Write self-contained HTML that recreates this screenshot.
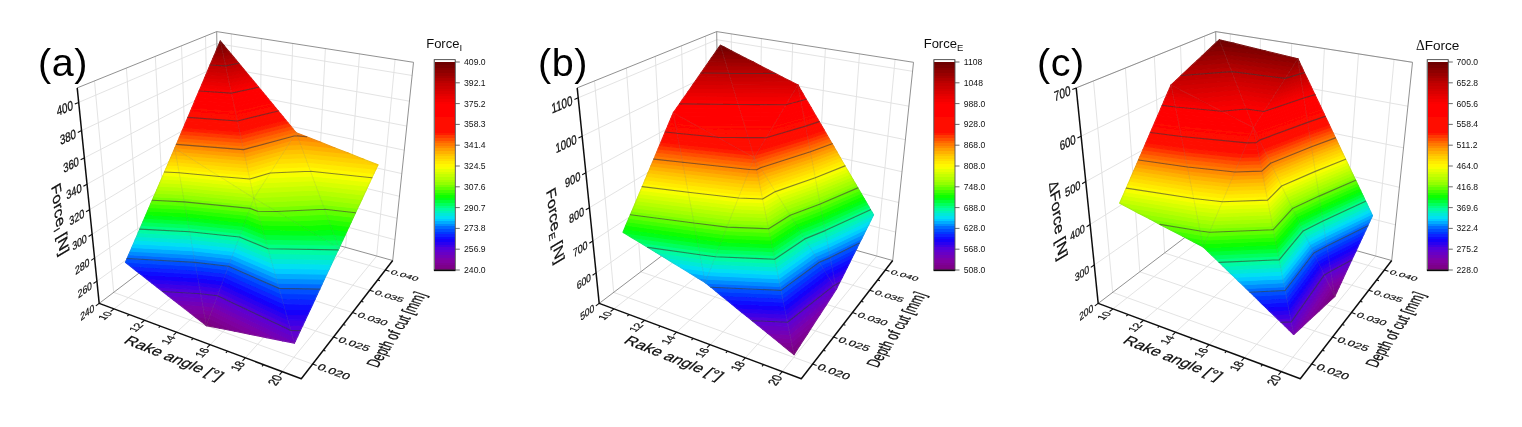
<!DOCTYPE html>
<html><head><meta charset="utf-8"><title>Force surfaces</title>
<style>html,body{margin:0;padding:0;background:#fff}svg{display:block}text{font-family:"Liberation Sans",Arial,sans-serif}</style>
</head><body>
<svg width="1522" height="427" viewBox="0 0 1522 427">
<defs><filter id="soft" x="0" y="0" width="1522" height="427" filterUnits="userSpaceOnUse"><feGaussianBlur stdDeviation="0.45"/></filter></defs>
<rect width="1522" height="427" fill="#fff"/>
<g filter="url(#soft)">
<g>
<path d="M114,308.9L232.3,215.8M232.3,215.8L231.3,33.9M144.6,320.3L259.1,223.3M259.1,223.3L261.4,38.6M176.6,332.2L286.9,231M286.9,231L292.7,43.5M210.1,344.7L315.7,239M315.7,239L325.4,48.6M245.3,357.8L345.6,247.4M345.6,247.4L359.5,53.9M282.2,371.6L376.7,256.1M376.7,256.1L395.1,59.4M113.7,292.4L312.6,364.1M113.7,292.4L94.5,80.9M140.8,271.8L333.5,337M140.8,271.8L126.4,68.1M165.6,253L352.5,312.6M165.6,253L155.3,56.4M188.4,235.6L369.6,290.3M188.4,235.6L181.5,45.8M209.4,219.7L385.3,270M209.4,219.7L205.5,36.2M96.9,281.1L219,193M219,193L394.9,239.7M94.5,258.1L218.7,173.3M218.7,173.3L397.1,218.3M92.1,234.3L218.5,153.1M218.5,153.1L399.4,196.3M89.6,209.7L218.1,132.3M218.1,132.3L401.8,173.6M87,184.2L217.8,111M217.8,111L404.3,150.2M84.3,157.9L217.5,89.1M217.5,89.1L406.8,126.1M81.6,130.6L217.2,66.6M217.2,66.6L409.5,101.2M78.7,102.4L216.8,43.5M216.8,43.5L412.2,75.5" stroke="#e0e0e0" stroke-width="0.9" fill="none"/>
<path d="M77.2,87.9L216.7,31.6M216.7,31.6L413.5,62.3M219.3,212.1L216.7,31.6M392.7,260.5L413.5,62.3M99.2,303.4L219.3,212.1M219.3,212.1L392.7,260.5" stroke="#858585" stroke-width="0.9" fill="none"/>
<g fill="currentColor" stroke="currentColor" stroke-width="1.1" stroke-linejoin="round">
<path color="#a5ff00" d="M253.1,197.7L253.9,198.2L253.8,197.8Z"/>
<path color="#b5ff00" d="M246.3,193.4L253.1,197.7L253.8,197.8L253,194Z"/>
<path color="#c6ff00" d="M239.5,189.1L246.3,193.4L253,194L252.2,190.2Z"/>
<path color="#d6ff00" d="M232.8,184.9L239.5,189.1L252.2,190.2L251.4,186.5Z"/>
<path color="#e6ff00" d="M226.1,180.7L232.8,184.9L251.4,186.5L250.6,182.7Z"/>
<path color="#f7ff00" d="M219.4,176.5L226.1,180.7L250.6,182.7L249.8,179Z"/>
<path color="#fff800" d="M212.8,172.3L219.4,176.5L249.8,179L249,175.3Z"/>
<path color="#ffeb00" d="M206.3,168.1L212.8,172.3L249,175.3L248.2,171.6Z"/>
<path color="#ffdd00" d="M199.7,164L206.3,168.1L248.2,171.6L247.4,167.9Z"/>
<path color="#ffd000" d="M193.2,159.9L199.7,164L247.4,167.9L246.6,164.2Z"/>
<path color="#ffc200" d="M186.7,155.8L193.2,159.9L246.6,164.2L245.8,160.5Z"/>
<path color="#ffb100" d="M180.3,151.7L186.7,155.8L245.8,160.5L245.1,156.9Z"/>
<path color="#ff9e00" d="M174.8,148.3L180.3,151.7L245.1,156.9L244.3,153.2L175,147.8Z"/>
<path color="#ff8b00" d="M244.3,153.2L243.5,149.6L176.4,144.4L175,147.8Z"/>
<path color="#ff7900" d="M243.5,149.6L242.7,146L177.9,141L176.4,144.4Z"/>
<path color="#ff6600" d="M242.7,146L242,142.4L179.3,137.6L177.9,141Z"/>
<path color="#ff4f00" d="M242,142.4L241.2,138.8L180.7,134.2L179.3,137.6Z"/>
<path color="#ff3700" d="M241.2,138.8L240.4,135.2L182.2,130.8L180.7,134.2Z"/>
<path color="#ff1f00" d="M240.4,135.2L239.7,131.6L183.6,127.5L182.2,130.8Z"/>
<path color="#ff0e00" d="M239.7,131.6L238.9,128.1L185,124.1L183.6,127.5Z"/>
<path color="#ff0c00" d="M238.9,128.1L238.1,124.5L186.4,120.8L185,124.1Z"/>
<path color="#ff0b00" d="M238.1,124.5L237.4,121L187.9,117.4L186.4,120.8Z"/>
<path color="#ff0a00" d="M237.4,121L236.6,117.5L189.3,114.1L187.9,117.4Z"/>
<path color="#ff0800" d="M236.6,117.5L235.9,114L190.7,110.8L189.3,114.1Z"/>
<path color="#ff0700" d="M235.9,114L235.1,110.4L192.1,107.4L190.7,110.8Z"/>
<path color="#ff0600" d="M235.1,110.4L234.4,107L193.5,104.1L192.1,107.4Z"/>
<path color="#ff0500" d="M234.4,107L233.7,103.5L194.9,100.8L193.5,104.1Z"/>
<path color="#ff0300" d="M233.7,103.5L232.9,100L196.3,97.5L194.9,100.8Z"/>
<path color="#ff0200" d="M232.9,100L232.2,96.5L197.7,94.2L196.3,97.5Z"/>
<path color="#ff0100" d="M232.2,96.5L231.4,93.1L199.1,91L197.7,94.2Z"/>
<path color="#fb0000" d="M231.4,93.1L230.7,89.7L200.5,87.7L199.1,91Z"/>
<path color="#f30000" d="M230.7,89.7L230,86.2L201.9,84.4L200.5,87.7Z"/>
<path color="#eb0000" d="M230,86.2L229.2,82.8L203.3,81.2L201.9,84.4Z"/>
<path color="#e30000" d="M229.2,82.8L228.5,79.4L204.6,77.9L203.3,81.2Z"/>
<path color="#da0000" d="M228.5,79.4L227.8,76L206,74.7L204.6,77.9Z"/>
<path color="#d20000" d="M227.8,76L227.1,72.7L207.4,71.4L206,74.7Z"/>
<path color="#ca0000" d="M227.1,72.7L226.3,69.3L208.7,68.2L207.4,71.4Z"/>
<path color="#c20000" d="M226.3,69.3L225.6,65.9L210.1,65L208.7,68.2Z"/>
<path color="#b90000" d="M225.6,65.9L224.9,62.6L211.5,61.8L210.1,65Z"/>
<path color="#ae0000" d="M224.9,62.6L224.2,59.2L212.8,58.6L211.5,61.8Z"/>
<path color="#a30000" d="M224.2,59.2L223.5,55.9L214.2,55.4L212.8,58.6Z"/>
<path color="#990000" d="M223.5,55.9L222.8,52.6L215.6,52.2L214.2,55.4Z"/>
<path color="#8e0000" d="M222.8,52.6L222.1,49.3L216.9,49L215.6,52.2Z"/>
<path color="#840000" d="M222.1,49.3L221.4,46L218.3,45.8L216.9,49Z"/>
<path color="#790000" d="M221.4,46L220.7,42.7L219.6,42.6L218.3,45.8Z"/>
<path color="#6e0000" d="M220.7,42.7L220.3,41L219.6,42.6Z"/>
<path color="#a5ff00" d="M253.9,198.2L254.3,197.6L253.8,197.8Z"/>
<path color="#b5ff00" d="M254.3,197.6L257.5,192.6L253,194L253.8,197.8Z"/>
<path color="#c6ff00" d="M257.5,192.6L260.7,187.6L252.2,190.2L253,194Z"/>
<path color="#d6ff00" d="M260.7,187.6L263.9,182.7L251.4,186.5L252.2,190.2Z"/>
<path color="#e6ff00" d="M263.9,182.7L267.1,177.8L250.6,182.7L251.4,186.5Z"/>
<path color="#f7ff00" d="M267.1,177.8L270.2,173L249.8,179L250.6,182.7Z"/>
<path color="#fff800" d="M270.2,173L273.3,168.2L249,175.3L249.8,179Z"/>
<path color="#ffeb00" d="M273.3,168.2L276.3,163.5L248.2,171.6L249,175.3Z"/>
<path color="#ffdd00" d="M276.3,163.5L279.4,158.8L247.4,167.9L248.2,171.6Z"/>
<path color="#ffd000" d="M279.4,158.8L282.4,154.1L246.6,164.2L247.4,167.9Z"/>
<path color="#ffc200" d="M282.4,154.1L285.3,149.6L245.8,160.5L246.6,164.2Z"/>
<path color="#ffb100" d="M285.3,149.6L288.3,145L245.1,156.9L245.8,160.5Z"/>
<path color="#ff9e00" d="M288.3,145L291.2,140.5L244.3,153.2L245.1,156.9Z"/>
<path color="#ff8b00" d="M291.2,140.5L294.1,136L243.5,149.6L244.3,153.2Z"/>
<path color="#ff7900" d="M294.1,136L296.2,132.7L295.6,132L242.7,146L243.5,149.6Z"/>
<path color="#ff6600" d="M295.6,132L293.1,129L242,142.4L242.7,146Z"/>
<path color="#ff4f00" d="M293.1,129L290.7,126L241.2,138.8L242,142.4Z"/>
<path color="#ff3700" d="M290.7,126L288.2,123L240.4,135.2L241.2,138.8Z"/>
<path color="#ff1f00" d="M288.2,123L285.7,120L239.7,131.6L240.4,135.2Z"/>
<path color="#ff0e00" d="M285.7,120L283.3,117L238.9,128.1L239.7,131.6Z"/>
<path color="#ff0c00" d="M283.3,117L280.8,114L238.1,124.5L238.9,128.1Z"/>
<path color="#ff0b00" d="M280.8,114L278.3,111L237.4,121L238.1,124.5Z"/>
<path color="#ff0a00" d="M278.3,111L275.8,108.1L236.6,117.5L237.4,121Z"/>
<path color="#ff0800" d="M275.8,108.1L273.4,105.1L235.9,114L236.6,117.5Z"/>
<path color="#ff0700" d="M273.4,105.1L270.9,102.1L235.1,110.4L235.9,114Z"/>
<path color="#ff0600" d="M270.9,102.1L268.4,99.1L234.4,107L235.1,110.4Z"/>
<path color="#ff0500" d="M268.4,99.1L266,96.1L233.7,103.5L234.4,107Z"/>
<path color="#ff0300" d="M266,96.1L263.5,93.1L232.9,100L233.7,103.5Z"/>
<path color="#ff0200" d="M263.5,93.1L261,90.2L232.2,96.5L232.9,100Z"/>
<path color="#ff0100" d="M261,90.2L258.5,87.2L231.4,93.1L232.2,96.5Z"/>
<path color="#fb0000" d="M258.5,87.2L256.1,84.2L230.7,89.7L231.4,93.1Z"/>
<path color="#f30000" d="M256.1,84.2L253.6,81.2L230,86.2L230.7,89.7Z"/>
<path color="#eb0000" d="M253.6,81.2L251.1,78.2L229.2,82.8L230,86.2Z"/>
<path color="#e30000" d="M251.1,78.2L248.7,75.3L228.5,79.4L229.2,82.8Z"/>
<path color="#da0000" d="M248.7,75.3L246.2,72.3L227.8,76L228.5,79.4Z"/>
<path color="#d20000" d="M246.2,72.3L243.8,69.3L227.1,72.7L227.8,76Z"/>
<path color="#ca0000" d="M243.8,69.3L241.3,66.3L226.3,69.3L227.1,72.7Z"/>
<path color="#c20000" d="M241.3,66.3L238.8,63.3L225.6,65.9L226.3,69.3Z"/>
<path color="#b90000" d="M238.8,63.3L236.4,60.4L224.9,62.6L225.6,65.9Z"/>
<path color="#ae0000" d="M236.4,60.4L233.9,57.4L224.2,59.2L224.9,62.6Z"/>
<path color="#a30000" d="M233.9,57.4L231.4,54.4L223.5,55.9L224.2,59.2Z"/>
<path color="#990000" d="M231.4,54.4L229,51.5L222.8,52.6L223.5,55.9Z"/>
<path color="#8e0000" d="M229,51.5L226.5,48.5L222.1,49.3L222.8,52.6Z"/>
<path color="#840000" d="M226.5,48.5L224.1,45.5L221.4,46L222.1,49.3Z"/>
<path color="#790000" d="M224.1,45.5L221.6,42.5L220.7,42.7L221.4,46Z"/>
<path color="#6e0000" d="M221.6,42.5L220.3,41L220.7,42.7Z"/>
<path color="#7b007f" d="M201.3,321.6L206.3,325.6L205.7,321.9Z"/>
<path color="#7c008a" d="M195.7,317.2L201.3,321.6L205.7,321.9L205,317.8Z"/>
<path color="#7e0095" d="M190.1,312.9L195.7,317.2L205,317.8L204.2,313.8Z"/>
<path color="#7f00a0" d="M184.6,308.6L190.1,312.9L204.2,313.8L203.5,309.8Z"/>
<path color="#7b00ab" d="M179.1,304.3L184.6,308.6L203.5,309.8L202.8,305.7Z"/>
<path color="#7200b8" d="M173.6,300L179.1,304.3L202.8,305.7L202.1,301.7Z"/>
<path color="#6800c4" d="M168.1,295.7L173.6,300L202.1,301.7L201.4,297.7Z"/>
<path color="#5f00d1" d="M162.7,291.5L168.1,295.7L201.4,297.7L200.7,293.8Z"/>
<path color="#5100dc" d="M157.3,287.2L162.7,291.5L200.7,293.8L200,289.8Z"/>
<path color="#3e00e6" d="M151.9,283L157.3,287.2L200,289.8L199.3,285.8Z"/>
<path color="#2b00f0" d="M146.5,278.8L151.9,283L199.3,285.8L198.6,281.9Z"/>
<path color="#1800fa" d="M141.1,274.6L146.5,278.8L198.6,281.9L197.9,278Z"/>
<path color="#0d0bff" d="M135.8,270.5L141.1,274.6L197.9,278L197.2,274.1Z"/>
<path color="#0922ff" d="M130.5,266.3L135.8,270.5L197.2,274.1L196.5,270.2Z"/>
<path color="#0638ff" d="M125.4,262.4L130.5,266.3L196.5,270.2L195.8,266.3L125.5,262.2Z"/>
<path color="#024fff" d="M195.8,266.3L195.1,262.4L127.1,258.5L125.5,262.2Z"/>
<path color="#006aff" d="M195.1,262.4L194.4,258.5L128.7,254.8L127.1,258.5Z"/>
<path color="#008bff" d="M194.4,258.5L193.7,254.7L130.3,251.1L128.7,254.8Z"/>
<path color="#00abff" d="M193.7,254.7L193,250.8L131.9,247.4L130.3,251.1Z"/>
<path color="#00ccff" d="M193,250.8L192.3,247L133.5,243.7L131.9,247.4Z"/>
<path color="#00e0f2" d="M192.3,247L191.7,243.2L135.1,240L133.5,243.7Z"/>
<path color="#00e9d8" d="M191.7,243.2L191,239.3L136.7,236.4L135.1,240Z"/>
<path color="#00f2bd" d="M191,239.3L190.3,235.5L138.2,232.7L136.7,236.4Z"/>
<path color="#00fba3" d="M190.3,235.5L189.6,231.8L139.8,229.1L138.2,232.7Z"/>
<path color="#00ff83" d="M189.6,231.8L189,228L141.4,225.4L139.8,229.1Z"/>
<path color="#00ff5e" d="M189,228L188.3,224.2L143,221.8L141.4,225.4Z"/>
<path color="#00ff38" d="M188.3,224.2L187.6,220.5L144.5,218.2L143,221.8Z"/>
<path color="#00ff13" d="M187.6,220.5L187,216.7L146.1,214.6L144.5,218.2Z"/>
<path color="#0dff00" d="M187,216.7L186.3,213L147.6,211L146.1,214.6Z"/>
<path color="#28ff00" d="M186.3,213L185.6,209.3L149.2,207.4L147.6,211Z"/>
<path color="#43ff00" d="M185.6,209.3L185,205.6L150.7,203.8L149.2,207.4Z"/>
<path color="#5eff00" d="M185,205.6L184.3,201.9L152.3,200.3L150.7,203.8Z"/>
<path color="#79ff00" d="M184.3,201.9L183.7,198.2L153.8,196.7L152.3,200.3Z"/>
<path color="#93ff00" d="M183.7,198.2L183,194.5L155.4,193.2L153.8,196.7Z"/>
<path color="#a5ff00" d="M183,194.5L182.4,190.9L156.9,189.6L155.4,193.2Z"/>
<path color="#b5ff00" d="M182.4,190.9L181.7,187.2L158.4,186.1L156.9,189.6Z"/>
<path color="#c6ff00" d="M181.7,187.2L181.1,183.6L159.9,182.6L158.4,186.1Z"/>
<path color="#d6ff00" d="M181.1,183.6L180.4,180L161.5,179L159.9,182.6Z"/>
<path color="#e6ff00" d="M180.4,180L179.8,176.3L163,175.5L161.5,179Z"/>
<path color="#f7ff00" d="M179.8,176.3L179.1,172.7L164.5,172L163,175.5Z"/>
<path color="#fff800" d="M179.1,172.7L178.5,169.1L166,168.5L164.5,172Z"/>
<path color="#ffeb00" d="M178.5,169.1L177.9,165.5L167.5,165.1L166,168.5Z"/>
<path color="#ffdd00" d="M177.9,165.5L177.2,162L169,161.6L167.5,165.1Z"/>
<path color="#ffd000" d="M177.2,162L176.6,158.4L170.5,158.1L169,161.6Z"/>
<path color="#ffc200" d="M176.6,158.4L176,154.9L172,154.7L170.5,158.1Z"/>
<path color="#ffb100" d="M176,154.9L175.3,151.3L173.5,151.2L172,154.7Z"/>
<path color="#ff9e00" d="M175.3,151.3L174.8,148.3L173.5,151.2Z"/>
<path color="#7b007f" d="M206.3,325.6L207.6,322.1L205.7,321.9Z"/>
<path color="#7c008a" d="M207.6,322.1L209,318.3L205,317.8L205.7,321.9Z"/>
<path color="#7e0095" d="M209,318.3L210.4,314.6L204.2,313.8L205,317.8Z"/>
<path color="#7f00a0" d="M210.4,314.6L211.8,310.8L203.5,309.8L204.2,313.8Z"/>
<path color="#7b00ab" d="M211.8,310.8L213.3,307L202.8,305.7L203.5,309.8Z"/>
<path color="#7200b8" d="M213.3,307L214.7,303.3L202.1,301.7L202.8,305.7Z"/>
<path color="#6800c4" d="M214.7,303.3L216.1,299.5L201.4,297.7L202.1,301.7Z"/>
<path color="#5f00d1" d="M216.1,299.5L217.4,295.8L200.7,293.8L201.4,297.7Z"/>
<path color="#5100dc" d="M217.4,295.8L218.8,292L200,289.8L200.7,293.8Z"/>
<path color="#3e00e6" d="M218.8,292L220.2,288.3L199.3,285.8L200,289.8Z"/>
<path color="#2b00f0" d="M220.2,288.3L221.6,284.6L198.6,281.9L199.3,285.8Z"/>
<path color="#1800fa" d="M221.6,284.6L223,280.9L197.9,278L198.6,281.9Z"/>
<path color="#0d0bff" d="M223,280.9L224.4,277.2L197.2,274.1L197.9,278Z"/>
<path color="#0922ff" d="M224.4,277.2L225.8,273.5L196.5,270.2L197.2,274.1Z"/>
<path color="#0638ff" d="M225.8,273.5L227.1,269.8L195.8,266.3L196.5,270.2Z"/>
<path color="#024fff" d="M227.1,269.8L228.5,266.2L195.1,262.4L195.8,266.3Z"/>
<path color="#006aff" d="M228.5,266.2L229.9,262.5L194.4,258.5L195.1,262.4Z"/>
<path color="#008bff" d="M229.9,262.5L231.2,258.8L193.7,254.7L194.4,258.5Z"/>
<path color="#00abff" d="M231.2,258.8L232.6,255.2L193,250.8L193.7,254.7Z"/>
<path color="#00ccff" d="M232.6,255.2L234,251.5L192.3,247L193,250.8Z"/>
<path color="#00e0f2" d="M234,251.5L235.3,247.9L191.7,243.2L192.3,247Z"/>
<path color="#00e9d8" d="M235.3,247.9L236.7,244.3L191,239.3L191.7,243.2Z"/>
<path color="#00f2bd" d="M236.7,244.3L238,240.6L190.3,235.5L191,239.3Z"/>
<path color="#00fba3" d="M238,240.6L239.4,237L189.6,231.8L190.3,235.5Z"/>
<path color="#00ff83" d="M239.4,237L240.7,233.4L189,228L189.6,231.8Z"/>
<path color="#00ff5e" d="M240.7,233.4L242.1,229.8L188.3,224.2L189,228Z"/>
<path color="#00ff38" d="M242.1,229.8L243.4,226.2L187.6,220.5L188.3,224.2Z"/>
<path color="#00ff13" d="M243.4,226.2L244.7,222.7L187,216.7L187.6,220.5Z"/>
<path color="#0dff00" d="M244.7,222.7L246.1,219.1L186.3,213L187,216.7Z"/>
<path color="#28ff00" d="M246.1,219.1L247.4,215.5L185.6,209.3L186.3,213Z"/>
<path color="#43ff00" d="M247.4,215.5L248.7,212L185,205.6L185.6,209.3Z"/>
<path color="#5eff00" d="M248.7,212L250.1,208.4L184.3,201.9L185,205.6Z"/>
<path color="#79ff00" d="M250.1,208.4L251.4,204.9L183.7,198.2L184.3,201.9Z"/>
<path color="#93ff00" d="M251.4,204.9L252.7,201.3L183,194.5L183.7,198.2Z"/>
<path color="#a5ff00" d="M252.7,201.3L253.9,198.2L253.1,197.7L182.4,190.9L183,194.5Z"/>
<path color="#b5ff00" d="M253.1,197.7L246.3,193.4L181.7,187.2L182.4,190.9Z"/>
<path color="#c6ff00" d="M246.3,193.4L239.5,189.1L181.1,183.6L181.7,187.2Z"/>
<path color="#d6ff00" d="M239.5,189.1L232.8,184.9L180.4,180L181.1,183.6Z"/>
<path color="#e6ff00" d="M232.8,184.9L226.1,180.7L179.8,176.3L180.4,180Z"/>
<path color="#f7ff00" d="M226.1,180.7L219.4,176.5L179.1,172.7L179.8,176.3Z"/>
<path color="#fff800" d="M219.4,176.5L212.8,172.3L178.5,169.1L179.1,172.7Z"/>
<path color="#ffeb00" d="M212.8,172.3L206.3,168.1L177.9,165.5L178.5,169.1Z"/>
<path color="#ffdd00" d="M206.3,168.1L199.7,164L177.2,162L177.9,165.5Z"/>
<path color="#ffd000" d="M199.7,164L193.2,159.9L176.6,158.4L177.2,162Z"/>
<path color="#ffc200" d="M193.2,159.9L186.7,155.8L176,154.9L176.6,158.4Z"/>
<path color="#ffb100" d="M186.7,155.8L180.3,151.7L175.3,151.3L176,154.9Z"/>
<path color="#ff9e00" d="M180.3,151.7L174.8,148.3L175.3,151.3Z"/>
<path color="#00ff83" d="M333.8,245L339,248.1L337.8,244.8Z"/>
<path color="#00ff5e" d="M325.4,240.1L333.8,245L337.8,244.8L335.8,239.6Z"/>
<path color="#00ff38" d="M317.1,235.3L325.4,240.1L335.8,239.6L333.9,234.4Z"/>
<path color="#00ff13" d="M308.9,230.4L317.1,235.3L333.9,234.4L332,229.3Z"/>
<path color="#0dff00" d="M300.8,225.7L308.9,230.4L332,229.3L330.1,224.2Z"/>
<path color="#28ff00" d="M292.7,220.9L300.8,225.7L330.1,224.2L328.3,219.2Z"/>
<path color="#43ff00" d="M284.6,216.2L292.7,220.9L328.3,219.2L326.4,214.2Z"/>
<path color="#5eff00" d="M276.6,211.5L284.6,216.2L326.4,214.2L324.6,209.3Z"/>
<path color="#79ff00" d="M268.7,206.9L276.6,211.5L324.6,209.3L322.8,204.4Z"/>
<path color="#93ff00" d="M260.8,202.3L268.7,206.9L322.8,204.4L321,199.5Z"/>
<path color="#a5ff00" d="M253.9,198.2L260.8,202.3L321,199.5L319.2,194.7L254.3,197.6Z"/>
<path color="#b5ff00" d="M319.2,194.7L317.4,190L257.5,192.6L254.3,197.6Z"/>
<path color="#c6ff00" d="M317.4,190L315.7,185.2L260.7,187.6L257.5,192.6Z"/>
<path color="#d6ff00" d="M315.7,185.2L314,180.6L263.9,182.7L260.7,187.6Z"/>
<path color="#e6ff00" d="M314,180.6L312.2,175.9L267.1,177.8L263.9,182.7Z"/>
<path color="#f7ff00" d="M312.2,175.9L310.5,171.3L270.2,173L267.1,177.8Z"/>
<path color="#fff800" d="M310.5,171.3L308.9,166.8L273.3,168.2L270.2,173Z"/>
<path color="#ffeb00" d="M308.9,166.8L307.2,162.2L276.3,163.5L273.3,168.2Z"/>
<path color="#ffdd00" d="M307.2,162.2L305.5,157.8L279.4,158.8L276.3,163.5Z"/>
<path color="#ffd000" d="M305.5,157.8L303.9,153.3L282.4,154.1L279.4,158.8Z"/>
<path color="#ffc200" d="M303.9,153.3L302.2,148.9L285.3,149.6L282.4,154.1Z"/>
<path color="#ffb100" d="M302.2,148.9L300.6,144.5L288.3,145L285.3,149.6Z"/>
<path color="#ff9e00" d="M300.6,144.5L299,140.2L291.2,140.5L288.3,145Z"/>
<path color="#ff8b00" d="M299,140.2L297.4,135.9L294.1,136L291.2,140.5Z"/>
<path color="#ff7900" d="M297.4,135.9L296.2,132.7L294.1,136Z"/>
<path color="#00ff83" d="M339,248.1L340.4,245.1L337.8,244.8Z"/>
<path color="#00ff5e" d="M340.4,245.1L342.6,240.4L335.8,239.6L337.8,244.8Z"/>
<path color="#00ff38" d="M342.6,240.4L344.8,235.7L333.9,234.4L335.8,239.6Z"/>
<path color="#00ff13" d="M344.8,235.7L346.9,231.1L332,229.3L333.9,234.4Z"/>
<path color="#0dff00" d="M346.9,231.1L349.1,226.5L330.1,224.2L332,229.3Z"/>
<path color="#28ff00" d="M349.1,226.5L351.2,221.9L328.3,219.2L330.1,224.2Z"/>
<path color="#43ff00" d="M351.2,221.9L353.4,217.3L326.4,214.2L328.3,219.2Z"/>
<path color="#5eff00" d="M353.4,217.3L355.5,212.8L324.6,209.3L326.4,214.2Z"/>
<path color="#79ff00" d="M355.5,212.8L357.6,208.3L322.8,204.4L324.6,209.3Z"/>
<path color="#93ff00" d="M357.6,208.3L359.7,203.9L321,199.5L322.8,204.4Z"/>
<path color="#a5ff00" d="M359.7,203.9L361.8,199.4L319.2,194.7L321,199.5Z"/>
<path color="#b5ff00" d="M361.8,199.4L363.8,195L317.4,190L319.2,194.7Z"/>
<path color="#c6ff00" d="M363.8,195L365.9,190.7L315.7,185.2L317.4,190Z"/>
<path color="#d6ff00" d="M365.9,190.7L367.9,186.3L314,180.6L315.7,185.2Z"/>
<path color="#e6ff00" d="M367.9,186.3L369.9,182L312.2,175.9L314,180.6Z"/>
<path color="#f7ff00" d="M369.9,182L371.9,177.7L310.5,171.3L312.2,175.9Z"/>
<path color="#fff800" d="M371.9,177.7L373.9,173.5L308.9,166.8L310.5,171.3Z"/>
<path color="#ffeb00" d="M373.9,173.5L375.9,169.3L307.2,162.2L308.9,166.8Z"/>
<path color="#ffdd00" d="M375.9,169.3L377.9,165.1L305.5,157.8L307.2,162.2Z"/>
<path color="#ffd000" d="M377.9,165.1L378,164.8L364.2,159.4L303.9,153.3L305.5,157.8Z"/>
<path color="#ffc200" d="M364.2,159.4L349.5,153.6L302.2,148.9L303.9,153.3Z"/>
<path color="#ffb100" d="M349.5,153.6L335,147.9L300.6,144.5L302.2,148.9Z"/>
<path color="#ff9e00" d="M335,147.9L320.8,142.3L299,140.2L300.6,144.5Z"/>
<path color="#ff8b00" d="M320.8,142.3L306.7,136.8L297.4,135.9L299,140.2Z"/>
<path color="#ff7900" d="M306.7,136.8L296.2,132.7L297.4,135.9Z"/>
<path color="#7b007f" d="M206.3,325.6L219.8,328.2L207.6,322.1Z"/>
<path color="#7c008a" d="M219.8,328.2L235,331.3L209,318.3L207.6,322.1Z"/>
<path color="#7e0095" d="M235,331.3L250.6,334.4L210.4,314.6L209,318.3Z"/>
<path color="#7f00a0" d="M250.6,334.4L266.6,337.6L211.8,310.8L210.4,314.6Z"/>
<path color="#7b00ab" d="M266.6,337.6L283,340.9L213.3,307L211.8,310.8Z"/>
<path color="#7200b8" d="M283,340.9L294.4,343.1L293.9,341.4L214.7,303.3L213.3,307Z"/>
<path color="#6800c4" d="M293.9,341.4L292.4,335.9L216.1,299.5L214.7,303.3Z"/>
<path color="#5f00d1" d="M292.4,335.9L290.9,330.5L217.4,295.8L216.1,299.5Z"/>
<path color="#5100dc" d="M290.9,330.5L289.4,325.1L218.8,292L217.4,295.8Z"/>
<path color="#3e00e6" d="M289.4,325.1L287.9,319.7L220.2,288.3L218.8,292Z"/>
<path color="#2b00f0" d="M287.9,319.7L286.4,314.4L221.6,284.6L220.2,288.3Z"/>
<path color="#1800fa" d="M286.4,314.4L284.9,309.1L223,280.9L221.6,284.6Z"/>
<path color="#0d0bff" d="M284.9,309.1L283.4,303.8L224.4,277.2L223,280.9Z"/>
<path color="#0922ff" d="M283.4,303.8L282,298.6L225.8,273.5L224.4,277.2Z"/>
<path color="#0638ff" d="M282,298.6L280.5,293.5L227.1,269.8L225.8,273.5Z"/>
<path color="#024fff" d="M280.5,293.5L279.1,288.4L228.5,266.2L227.1,269.8Z"/>
<path color="#006aff" d="M279.1,288.4L277.7,283.3L229.9,262.5L228.5,266.2Z"/>
<path color="#008bff" d="M277.7,283.3L276.3,278.2L231.2,258.8L229.9,262.5Z"/>
<path color="#00abff" d="M276.3,278.2L274.9,273.2L232.6,255.2L231.2,258.8Z"/>
<path color="#00ccff" d="M274.9,273.2L273.5,268.2L234,251.5L232.6,255.2Z"/>
<path color="#00e0f2" d="M273.5,268.2L272.1,263.3L235.3,247.9L234,251.5Z"/>
<path color="#00e9d8" d="M272.1,263.3L270.7,258.4L236.7,244.3L235.3,247.9Z"/>
<path color="#00f2bd" d="M270.7,258.4L269.3,253.5L238,240.6L236.7,244.3Z"/>
<path color="#00fba3" d="M269.3,253.5L268,248.7L239.4,237L238,240.6Z"/>
<path color="#00ff83" d="M268,248.7L266.7,243.9L240.7,233.4L239.4,237Z"/>
<path color="#00ff5e" d="M266.7,243.9L265.3,239.1L242.1,229.8L240.7,233.4Z"/>
<path color="#00ff38" d="M265.3,239.1L264,234.4L243.4,226.2L242.1,229.8Z"/>
<path color="#00ff13" d="M264,234.4L262.7,229.7L244.7,222.7L243.4,226.2Z"/>
<path color="#0dff00" d="M262.7,229.7L261.4,225L246.1,219.1L244.7,222.7Z"/>
<path color="#28ff00" d="M261.4,225L260.1,220.4L247.4,215.5L246.1,219.1Z"/>
<path color="#43ff00" d="M260.1,220.4L258.8,215.8L248.7,212L247.4,215.5Z"/>
<path color="#5eff00" d="M258.8,215.8L257.5,211.2L250.1,208.4L248.7,212Z"/>
<path color="#79ff00" d="M257.5,211.2L256.3,206.7L251.4,204.9L250.1,208.4Z"/>
<path color="#93ff00" d="M256.3,206.7L255,202.2L252.7,201.3L251.4,204.9Z"/>
<path color="#a5ff00" d="M255,202.2L253.9,198.2L252.7,201.3Z"/>
<path color="#7200b8" d="M294.4,343.1L295.2,341.4L293.9,341.4Z"/>
<path color="#6800c4" d="M295.2,341.4L297.8,336L292.4,335.9L293.9,341.4Z"/>
<path color="#5f00d1" d="M297.8,336L300.3,330.6L290.9,330.5L292.4,335.9Z"/>
<path color="#5100dc" d="M300.3,330.6L302.8,325.3L289.4,325.1L290.9,330.5Z"/>
<path color="#3e00e6" d="M302.8,325.3L305.3,320L287.9,319.7L289.4,325.1Z"/>
<path color="#2b00f0" d="M305.3,320L307.7,314.8L286.4,314.4L287.9,319.7Z"/>
<path color="#1800fa" d="M307.7,314.8L310.2,309.5L284.9,309.1L286.4,314.4Z"/>
<path color="#0d0bff" d="M310.2,309.5L312.6,304.4L283.4,303.8L284.9,309.1Z"/>
<path color="#0922ff" d="M312.6,304.4L315,299.2L282,298.6L283.4,303.8Z"/>
<path color="#0638ff" d="M315,299.2L317.4,294.1L280.5,293.5L282,298.6Z"/>
<path color="#024fff" d="M317.4,294.1L319.8,289.1L279.1,288.4L280.5,293.5Z"/>
<path color="#006aff" d="M319.8,289.1L322.1,284L277.7,283.3L279.1,288.4Z"/>
<path color="#008bff" d="M322.1,284L324.4,279.1L276.3,278.2L277.7,283.3Z"/>
<path color="#00abff" d="M324.4,279.1L326.8,274.1L274.9,273.2L276.3,278.2Z"/>
<path color="#00ccff" d="M326.8,274.1L329.1,269.2L273.5,268.2L274.9,273.2Z"/>
<path color="#00e0f2" d="M329.1,269.2L331.4,264.3L272.1,263.3L273.5,268.2Z"/>
<path color="#00e9d8" d="M331.4,264.3L333.6,259.5L270.7,258.4L272.1,263.3Z"/>
<path color="#00f2bd" d="M333.6,259.5L335.9,254.6L269.3,253.5L270.7,258.4Z"/>
<path color="#00fba3" d="M335.9,254.6L338.1,249.9L268,248.7L269.3,253.5Z"/>
<path color="#00ff83" d="M338.1,249.9L339,248.1L333.8,245L266.7,243.9L268,248.7Z"/>
<path color="#00ff5e" d="M333.8,245L325.4,240.1L265.3,239.1L266.7,243.9Z"/>
<path color="#00ff38" d="M325.4,240.1L317.1,235.3L264,234.4L265.3,239.1Z"/>
<path color="#00ff13" d="M317.1,235.3L308.9,230.4L262.7,229.7L264,234.4Z"/>
<path color="#0dff00" d="M308.9,230.4L300.8,225.7L261.4,225L262.7,229.7Z"/>
<path color="#28ff00" d="M300.8,225.7L292.7,220.9L260.1,220.4L261.4,225Z"/>
<path color="#43ff00" d="M292.7,220.9L284.6,216.2L258.8,215.8L260.1,220.4Z"/>
<path color="#5eff00" d="M284.6,216.2L276.6,211.5L257.5,211.2L258.8,215.8Z"/>
<path color="#79ff00" d="M276.6,211.5L268.7,206.9L256.3,206.7L257.5,211.2Z"/>
<path color="#93ff00" d="M268.7,206.9L260.8,202.3L255,202.2L256.3,206.7Z"/>
<path color="#a5ff00" d="M260.8,202.3L253.9,198.2L255,202.2Z"/>
</g>
<path d="M174.8,148.3L253.9,198.2M253.9,198.2L220.3,41M220.3,41L174.8,148.3M253.9,198.2L296.2,132.7M296.2,132.7L220.3,41M125.4,262.4L206.3,325.6M206.3,325.6L174.8,148.3M174.8,148.3L125.4,262.4M206.3,325.6L253.9,198.2M253.9,198.2L339,248.1M339,248.1L296.2,132.7M339,248.1L378,164.8M378,164.8L296.2,132.7M206.3,325.6L294.4,343.1M294.4,343.1L253.9,198.2M294.4,343.1L339,248.1" stroke="#808080" stroke-opacity="0.28" stroke-width="0.6" fill="none"/>
<path d="M162.7,291.5L200.7,293.8M217.4,295.8L200.7,293.8M290.9,330.5L217.4,295.8M300.3,330.6L290.9,330.5M195.1,262.4L127.1,258.5M228.5,266.2L195.1,262.4M279.1,288.4L228.5,266.2M319.8,289.1L279.1,288.4M189.6,231.8L139.8,229.1M239.4,237L189.6,231.8M268,248.7L239.4,237M338.1,249.9L268,248.7M184.3,201.9L152.3,200.3M250.1,208.4L184.3,201.9M276.6,211.5L324.6,209.3M355.5,212.8L324.6,209.3M257.5,211.2L250.1,208.4M276.6,211.5L257.5,211.2M219.4,176.5L249.8,179M270.2,173L249.8,179M179.1,172.7L164.5,172M219.4,176.5L179.1,172.7M310.5,171.3L270.2,173M371.9,177.7L310.5,171.3M243.5,149.6L176.4,144.4M294.1,136L243.5,149.6M297.4,135.9L294.1,136M306.7,136.8L297.4,135.9M237.4,121L187.9,117.4M278.3,111L237.4,121M231.4,93.1L199.1,91M258.5,87.2L231.4,93.1M225.6,65.9L210.1,65M238.8,63.3L225.6,65.9" stroke="#383838" stroke-opacity="0.6" stroke-width="1.15" fill="none" stroke-linecap="round"/>
<path d="M77.2,87.9L99.2,303.4L301.3,378.7L392.7,260.5" stroke="#111" stroke-width="1.5" fill="none" stroke-linejoin="round"/>
<path d="M99.2,303.4L95.8,305.9M96.9,281.1L93.5,283.5M94.5,258.1L91.1,260.4M92.1,234.3L88.6,236.5M89.6,209.7L86,211.8M87,184.2L83.4,186.3M84.3,157.9L80.6,159.8M81.6,130.6L77.8,132.4M78.7,102.4L74.8,104.1M114,308.9L110.6,311.5M129.1,314.6L127.3,316M144.6,320.3L141.3,323M160.4,326.2L158.7,327.7M176.6,332.2L173.5,335.1M193.1,338.4L191.5,340M210.1,344.7L207.1,347.7M227.5,351.2L225.9,352.9M245.3,357.8L242.5,360.9M263.5,364.6L262,366.4M282.2,371.6L279.5,374.8M312.6,364.1L316.6,365.5M323.4,350.2L325.5,351M333.5,337L337.5,338.4M343.2,324.5L345.4,325.2M352.5,312.6L356.5,313.9M361.2,301.2L363.4,301.9M369.6,290.3L373.7,291.6M377.7,280L379.9,280.6M385.3,270L389.4,271.2" stroke="#111" stroke-width="1.1" fill="none"/>
<g fill="#111" stroke="#111" stroke-width="0.25"><text transform="matrix(0.765 -0.581 0.098 0.962 94.1 307.2)" font-size="10.7" text-anchor="end" y="3.6">240</text><text transform="matrix(0.780 -0.563 0.101 0.993 91.8 284.8)" font-size="10.7" text-anchor="end" y="3.6">260</text><text transform="matrix(0.796 -0.543 0.104 1.026 89.3 261.6)" font-size="10.7" text-anchor="end" y="3.6">280</text><text transform="matrix(0.812 -0.522 0.108 1.060 86.8 237.7)" font-size="10.7" text-anchor="end" y="3.6">300</text><text transform="matrix(0.829 -0.499 0.111 1.096 84.2 212.9)" font-size="10.7" text-anchor="end" y="3.6">320</text><text transform="matrix(0.847 -0.474 0.115 1.134 81.5 187.3)" font-size="10.7" text-anchor="end" y="3.6">340</text><text transform="matrix(0.865 -0.447 0.119 1.173 78.8 160.8)" font-size="10.7" text-anchor="end" y="3.6">360</text><text transform="matrix(0.884 -0.417 0.124 1.215 75.9 133.3)" font-size="10.7" text-anchor="end" y="3.6">380</text><text transform="matrix(0.904 -0.386 0.128 1.259 72.9 104.9)" font-size="10.7" text-anchor="end" y="3.6">400</text><text transform="matrix(0.756 -0.594 0.926 0.345 109.6 312.3)" font-size="10.6" text-anchor="end" y="3.6">10</text><text transform="matrix(0.734 -0.622 0.968 0.361 140.4 323.9)" font-size="10.6" text-anchor="end" y="3.6">12</text><text transform="matrix(0.710 -0.652 1.013 0.377 172.5 336.0)" font-size="10.6" text-anchor="end" y="3.6">14</text><text transform="matrix(0.683 -0.684 1.062 0.395 206.2 348.6)" font-size="10.6" text-anchor="end" y="3.6">16</text><text transform="matrix(0.652 -0.718 1.114 0.415 241.6 361.9)" font-size="10.6" text-anchor="end" y="3.6">18</text><text transform="matrix(0.617 -0.755 1.170 0.436 278.7 375.8)" font-size="10.6" text-anchor="end" y="3.6">20</text><text transform="matrix(1.177 0.424 -0.567 0.734 318.3 366.1)" font-size="10.6" text-anchor="start" y="3.6">0.020</text><text transform="matrix(1.133 0.383 -0.512 0.662 339.2 339.0)" font-size="10.6" text-anchor="start" y="3.6">0.025</text><text transform="matrix(1.092 0.348 -0.464 0.600 358.2 314.4)" font-size="10.6" text-anchor="start" y="3.6">0.030</text><text transform="matrix(1.053 0.318 -0.423 0.547 375.4 292.1)" font-size="10.6" text-anchor="start" y="3.6">0.035</text><text transform="matrix(1.017 0.291 -0.387 0.500 391.1 271.7)" font-size="10.6" text-anchor="start" y="3.6">0.040</text><text transform="matrix(1.072 0.428 -0.772 0.741 170.4 361.6)" font-size="14.1" text-anchor="middle" y="0.0">Rake angle [°]</text><text transform="matrix(0.426 -0.641 1.157 0.371 402.1 331.4)" font-size="14.6" text-anchor="middle" y="0.0">Depth of cut [mm]</text><text transform="matrix(0.145 1.150 -0.925 0.545 55.7 221.9)" font-size="14.2" text-anchor="middle" y="0.0">Force<tspan font-size="9" dy="3">I</tspan><tspan dy="-3"> [N]</tspan></text></g>
<text x="38.0" y="75.8" font-size="39.5" letter-spacing="0.6" fill="#000">(a)</text>
<rect x="434.2" y="59.7" width="21.0" height="210.3" fill="#fff" stroke="#555" stroke-width="0.7"/>
<rect x="434.6" y="267.40" width="20.2" height="3.20" fill="#7b007f" shape-rendering="crispEdges"/>
<rect x="434.6" y="264.80" width="20.2" height="3.20" fill="#7c008a" shape-rendering="crispEdges"/>
<rect x="434.6" y="262.20" width="20.2" height="3.20" fill="#7e0095" shape-rendering="crispEdges"/>
<rect x="434.6" y="259.60" width="20.2" height="3.20" fill="#7f00a0" shape-rendering="crispEdges"/>
<rect x="434.6" y="257.00" width="20.2" height="3.20" fill="#7b00ab" shape-rendering="crispEdges"/>
<rect x="434.6" y="254.40" width="20.2" height="3.20" fill="#7200b8" shape-rendering="crispEdges"/>
<rect x="434.6" y="251.80" width="20.2" height="3.20" fill="#6800c4" shape-rendering="crispEdges"/>
<rect x="434.6" y="249.20" width="20.2" height="3.20" fill="#5f00d1" shape-rendering="crispEdges"/>
<rect x="434.6" y="246.60" width="20.2" height="3.20" fill="#5100dc" shape-rendering="crispEdges"/>
<rect x="434.6" y="244.00" width="20.2" height="3.20" fill="#3e00e6" shape-rendering="crispEdges"/>
<rect x="434.6" y="241.40" width="20.2" height="3.20" fill="#2b00f0" shape-rendering="crispEdges"/>
<rect x="434.6" y="238.80" width="20.2" height="3.20" fill="#1800fa" shape-rendering="crispEdges"/>
<rect x="434.6" y="236.20" width="20.2" height="3.20" fill="#0d0bff" shape-rendering="crispEdges"/>
<rect x="434.6" y="233.60" width="20.2" height="3.20" fill="#0922ff" shape-rendering="crispEdges"/>
<rect x="434.6" y="231.00" width="20.2" height="3.20" fill="#0638ff" shape-rendering="crispEdges"/>
<rect x="434.6" y="228.40" width="20.2" height="3.20" fill="#024fff" shape-rendering="crispEdges"/>
<rect x="434.6" y="225.80" width="20.2" height="3.20" fill="#006aff" shape-rendering="crispEdges"/>
<rect x="434.6" y="223.20" width="20.2" height="3.20" fill="#008bff" shape-rendering="crispEdges"/>
<rect x="434.6" y="220.60" width="20.2" height="3.20" fill="#00abff" shape-rendering="crispEdges"/>
<rect x="434.6" y="218.00" width="20.2" height="3.20" fill="#00ccff" shape-rendering="crispEdges"/>
<rect x="434.6" y="215.40" width="20.2" height="3.20" fill="#00e0f2" shape-rendering="crispEdges"/>
<rect x="434.6" y="212.80" width="20.2" height="3.20" fill="#00e9d8" shape-rendering="crispEdges"/>
<rect x="434.6" y="210.20" width="20.2" height="3.20" fill="#00f2bd" shape-rendering="crispEdges"/>
<rect x="434.6" y="207.60" width="20.2" height="3.20" fill="#00fba3" shape-rendering="crispEdges"/>
<rect x="434.6" y="205.00" width="20.2" height="3.20" fill="#00ff83" shape-rendering="crispEdges"/>
<rect x="434.6" y="202.40" width="20.2" height="3.20" fill="#00ff5e" shape-rendering="crispEdges"/>
<rect x="434.6" y="199.80" width="20.2" height="3.20" fill="#00ff38" shape-rendering="crispEdges"/>
<rect x="434.6" y="197.20" width="20.2" height="3.20" fill="#00ff13" shape-rendering="crispEdges"/>
<rect x="434.6" y="194.60" width="20.2" height="3.20" fill="#0dff00" shape-rendering="crispEdges"/>
<rect x="434.6" y="192.00" width="20.2" height="3.20" fill="#28ff00" shape-rendering="crispEdges"/>
<rect x="434.6" y="189.40" width="20.2" height="3.20" fill="#43ff00" shape-rendering="crispEdges"/>
<rect x="434.6" y="186.80" width="20.2" height="3.20" fill="#5eff00" shape-rendering="crispEdges"/>
<rect x="434.6" y="184.20" width="20.2" height="3.20" fill="#79ff00" shape-rendering="crispEdges"/>
<rect x="434.6" y="181.60" width="20.2" height="3.20" fill="#93ff00" shape-rendering="crispEdges"/>
<rect x="434.6" y="179.00" width="20.2" height="3.20" fill="#a5ff00" shape-rendering="crispEdges"/>
<rect x="434.6" y="176.40" width="20.2" height="3.20" fill="#b5ff00" shape-rendering="crispEdges"/>
<rect x="434.6" y="173.80" width="20.2" height="3.20" fill="#c6ff00" shape-rendering="crispEdges"/>
<rect x="434.6" y="171.20" width="20.2" height="3.20" fill="#d6ff00" shape-rendering="crispEdges"/>
<rect x="434.6" y="168.60" width="20.2" height="3.20" fill="#e6ff00" shape-rendering="crispEdges"/>
<rect x="434.6" y="166.00" width="20.2" height="3.20" fill="#f7ff00" shape-rendering="crispEdges"/>
<rect x="434.6" y="163.40" width="20.2" height="3.20" fill="#fff800" shape-rendering="crispEdges"/>
<rect x="434.6" y="160.80" width="20.2" height="3.20" fill="#ffeb00" shape-rendering="crispEdges"/>
<rect x="434.6" y="158.20" width="20.2" height="3.20" fill="#ffdd00" shape-rendering="crispEdges"/>
<rect x="434.6" y="155.60" width="20.2" height="3.20" fill="#ffd000" shape-rendering="crispEdges"/>
<rect x="434.6" y="153.00" width="20.2" height="3.20" fill="#ffc200" shape-rendering="crispEdges"/>
<rect x="434.6" y="150.40" width="20.2" height="3.20" fill="#ffb100" shape-rendering="crispEdges"/>
<rect x="434.6" y="147.80" width="20.2" height="3.20" fill="#ff9e00" shape-rendering="crispEdges"/>
<rect x="434.6" y="145.20" width="20.2" height="3.20" fill="#ff8b00" shape-rendering="crispEdges"/>
<rect x="434.6" y="142.60" width="20.2" height="3.20" fill="#ff7900" shape-rendering="crispEdges"/>
<rect x="434.6" y="140.00" width="20.2" height="3.20" fill="#ff6600" shape-rendering="crispEdges"/>
<rect x="434.6" y="137.40" width="20.2" height="3.20" fill="#ff4f00" shape-rendering="crispEdges"/>
<rect x="434.6" y="134.80" width="20.2" height="3.20" fill="#ff3700" shape-rendering="crispEdges"/>
<rect x="434.6" y="132.20" width="20.2" height="3.20" fill="#ff1f00" shape-rendering="crispEdges"/>
<rect x="434.6" y="129.60" width="20.2" height="3.20" fill="#ff0e00" shape-rendering="crispEdges"/>
<rect x="434.6" y="127.00" width="20.2" height="3.20" fill="#ff0c00" shape-rendering="crispEdges"/>
<rect x="434.6" y="124.40" width="20.2" height="3.20" fill="#ff0b00" shape-rendering="crispEdges"/>
<rect x="434.6" y="121.80" width="20.2" height="3.20" fill="#ff0a00" shape-rendering="crispEdges"/>
<rect x="434.6" y="119.20" width="20.2" height="3.20" fill="#ff0800" shape-rendering="crispEdges"/>
<rect x="434.6" y="116.60" width="20.2" height="3.20" fill="#ff0700" shape-rendering="crispEdges"/>
<rect x="434.6" y="114.00" width="20.2" height="3.20" fill="#ff0600" shape-rendering="crispEdges"/>
<rect x="434.6" y="111.40" width="20.2" height="3.20" fill="#ff0500" shape-rendering="crispEdges"/>
<rect x="434.6" y="108.80" width="20.2" height="3.20" fill="#ff0300" shape-rendering="crispEdges"/>
<rect x="434.6" y="106.20" width="20.2" height="3.20" fill="#ff0200" shape-rendering="crispEdges"/>
<rect x="434.6" y="103.60" width="20.2" height="3.20" fill="#ff0100" shape-rendering="crispEdges"/>
<rect x="434.6" y="101.00" width="20.2" height="3.20" fill="#fb0000" shape-rendering="crispEdges"/>
<rect x="434.6" y="98.40" width="20.2" height="3.20" fill="#f30000" shape-rendering="crispEdges"/>
<rect x="434.6" y="95.80" width="20.2" height="3.20" fill="#eb0000" shape-rendering="crispEdges"/>
<rect x="434.6" y="93.20" width="20.2" height="3.20" fill="#e30000" shape-rendering="crispEdges"/>
<rect x="434.6" y="90.60" width="20.2" height="3.20" fill="#da0000" shape-rendering="crispEdges"/>
<rect x="434.6" y="88.00" width="20.2" height="3.20" fill="#d20000" shape-rendering="crispEdges"/>
<rect x="434.6" y="85.40" width="20.2" height="3.20" fill="#ca0000" shape-rendering="crispEdges"/>
<rect x="434.6" y="82.80" width="20.2" height="3.20" fill="#c20000" shape-rendering="crispEdges"/>
<rect x="434.6" y="80.20" width="20.2" height="3.20" fill="#b90000" shape-rendering="crispEdges"/>
<rect x="434.6" y="77.60" width="20.2" height="3.20" fill="#ae0000" shape-rendering="crispEdges"/>
<rect x="434.6" y="75.00" width="20.2" height="3.20" fill="#a30000" shape-rendering="crispEdges"/>
<rect x="434.6" y="72.40" width="20.2" height="3.20" fill="#990000" shape-rendering="crispEdges"/>
<rect x="434.6" y="69.80" width="20.2" height="3.20" fill="#8e0000" shape-rendering="crispEdges"/>
<rect x="434.6" y="67.20" width="20.2" height="3.20" fill="#840000" shape-rendering="crispEdges"/>
<rect x="434.6" y="64.60" width="20.2" height="3.20" fill="#790000" shape-rendering="crispEdges"/>
<rect x="434.6" y="62.00" width="20.2" height="3.20" fill="#6e0000" shape-rendering="crispEdges"/>
<rect x="434.2" y="59.7" width="21.0" height="210.3" fill="none" stroke="#555" stroke-width="0.7"/>
<path d="M433.9,270.4h21.6" stroke="#111" stroke-width="1.5"/>
<text x="464.1" y="273.0" font-size="8.6" fill="#111">240.0</text>
<text x="464.1" y="252.2" font-size="8.6" fill="#111">256.9</text>
<text x="464.1" y="231.4" font-size="8.6" fill="#111">273.8</text>
<text x="464.1" y="210.6" font-size="8.6" fill="#111">290.7</text>
<text x="464.1" y="189.8" font-size="8.6" fill="#111">307.6</text>
<text x="464.1" y="169.0" font-size="8.6" fill="#111">324.5</text>
<text x="464.1" y="148.2" font-size="8.6" fill="#111">341.4</text>
<text x="464.1" y="127.4" font-size="8.6" fill="#111">358.3</text>
<text x="464.1" y="106.6" font-size="8.6" fill="#111">375.2</text>
<text x="464.1" y="85.8" font-size="8.6" fill="#111">392.1</text>
<text x="464.1" y="65.0" font-size="8.6" fill="#111">409.0</text>
<path d="M455.2,270.0h4.6M455.2,249.2h4.6M455.2,228.4h4.6M455.2,207.6h4.6M455.2,186.8h4.6M455.2,166.0h4.6M455.2,145.2h4.6M455.2,124.4h4.6M455.2,103.6h4.6M455.2,82.8h4.6M455.2,62.0h4.6" stroke="#444" stroke-width="0.8" fill="none"/>
<text x="426.2" y="47.5" font-size="13" fill="#111">Force<tspan font-size="9.5" dy="3.5">I</tspan></text>
</g>
<g>
<path d="M614,308.9L732.3,215.8M732.3,215.8L731.3,33.9M644.6,320.3L759.1,223.3M759.1,223.3L761.4,38.6M676.6,332.2L786.9,231M786.9,231L792.7,43.5M710.1,344.7L815.7,239M815.7,239L825.4,48.6M745.3,357.8L845.6,247.4M845.6,247.4L859.5,53.9M782.2,371.6L876.7,256.1M876.7,256.1L895.1,59.4M613.7,292.4L812.6,364.1M613.7,292.4L594.5,80.9M640.8,271.8L833.5,337M640.8,271.8L626.4,68.1M665.6,253L852.5,312.6M665.6,253L655.3,56.4M688.4,235.6L869.6,290.3M688.4,235.6L681.5,45.8M709.4,219.7L885.3,270M709.4,219.7L705.5,36.2M596,272.9L718.9,185.9M718.9,185.9L895.7,232.1M592.8,241L718.5,158.8M718.5,158.8L898.8,202.5M589.4,207.7L718.1,130.6M718.1,130.6L902,171.7M585.9,172.7L717.7,101.5M717.7,101.5L905.4,139.7M582.1,136.2L717.2,71.2M717.2,71.2L908.9,106.2M578.2,97.8L716.8,39.7M716.8,39.7L912.6,71.3" stroke="#e0e0e0" stroke-width="0.9" fill="none"/>
<path d="M577.2,87.9L716.7,31.6M716.7,31.6L913.5,62.3M719.3,212.1L716.7,31.6M892.7,260.5L913.5,62.3M599.2,303.4L719.3,212.1M719.3,212.1L892.7,260.5" stroke="#858585" stroke-width="0.9" fill="none"/>
<g fill="currentColor" stroke="currentColor" stroke-width="1.1" stroke-linejoin="round">
<path color="#ff3700" d="M749.6,154.9L754.2,157.5L753.5,154.9Z"/>
<path color="#ff1f00" d="M741.5,150.4L749.6,154.9L753.5,154.9L752.1,150.6Z"/>
<path color="#ff0e00" d="M733.4,146L741.5,150.4L752.1,150.6L750.8,146.2Z"/>
<path color="#ff0c00" d="M725.4,141.6L733.4,146L750.8,146.2L749.5,141.9Z"/>
<path color="#ff0b00" d="M717.5,137.3L725.4,141.6L749.5,141.9L748.2,137.6Z"/>
<path color="#ff0a00" d="M709.7,133L717.5,137.3L748.2,137.6L747,133.4Z"/>
<path color="#ff0800" d="M701.9,128.7L709.7,133L747,133.4L745.7,129.2Z"/>
<path color="#ff0700" d="M694.1,124.4L701.9,128.7L745.7,129.2L744.4,125Z"/>
<path color="#ff0600" d="M686.4,120.2L694.1,124.4L744.4,125L743.2,120.8Z"/>
<path color="#ff0500" d="M678.8,116L686.4,120.2L743.2,120.8L741.9,116.7Z"/>
<path color="#ff0300" d="M673.3,112.9L678.8,116L741.9,116.7L740.7,112.6L674,111.9Z"/>
<path color="#ff0200" d="M740.7,112.6L739.5,108.5L676.8,107.9L674,111.9Z"/>
<path color="#ff0100" d="M739.5,108.5L738.3,104.5L679.6,103.9L676.8,107.9Z"/>
<path color="#fb0000" d="M738.3,104.5L737,100.5L682.3,99.9L679.6,103.9Z"/>
<path color="#f30000" d="M737,100.5L735.8,96.5L685.1,96L682.3,99.9Z"/>
<path color="#eb0000" d="M735.8,96.5L734.7,92.6L687.8,92.1L685.1,96Z"/>
<path color="#e30000" d="M734.7,92.6L733.5,88.7L690.5,88.2L687.8,92.1Z"/>
<path color="#da0000" d="M733.5,88.7L732.3,84.8L693.1,84.3L690.5,88.2Z"/>
<path color="#d20000" d="M732.3,84.8L731.1,80.9L695.8,80.5L693.1,84.3Z"/>
<path color="#ca0000" d="M731.1,80.9L730,77.1L698.4,76.7L695.8,80.5Z"/>
<path color="#c20000" d="M730,77.1L728.8,73.3L701,73L698.4,76.7Z"/>
<path color="#b90000" d="M728.8,73.3L727.7,69.5L703.6,69.2L701,73Z"/>
<path color="#ae0000" d="M727.7,69.5L726.6,65.7L706.2,65.5L703.6,69.2Z"/>
<path color="#a30000" d="M726.6,65.7L725.4,62L708.8,61.8L706.2,65.5Z"/>
<path color="#990000" d="M725.4,62L724.3,58.3L711.3,58.1L708.8,61.8Z"/>
<path color="#8e0000" d="M724.3,58.3L723.2,54.6L713.9,54.5L711.3,58.1Z"/>
<path color="#840000" d="M723.2,54.6L722.1,51L716.4,50.9L713.9,54.5Z"/>
<path color="#790000" d="M722.1,51L721,47.3L718.9,47.3L716.4,50.9Z"/>
<path color="#6e0000" d="M721,47.3L720.4,45.2L718.9,47.3Z"/>
<path color="#ff3700" d="M754.2,157.5L755.7,154.9L753.5,154.9Z"/>
<path color="#ff1f00" d="M755.7,154.9L758.4,150.6L752.1,150.6L753.5,154.9Z"/>
<path color="#ff0e00" d="M758.4,150.6L761,146.3L750.8,146.2L752.1,150.6Z"/>
<path color="#ff0c00" d="M761,146.3L763.6,142L749.5,141.9L750.8,146.2Z"/>
<path color="#ff0b00" d="M763.6,142L766.1,137.7L748.2,137.6L749.5,141.9Z"/>
<path color="#ff0a00" d="M766.1,137.7L768.7,133.5L747,133.4L748.2,137.6Z"/>
<path color="#ff0800" d="M768.7,133.5L771.2,129.3L745.7,129.2L747,133.4Z"/>
<path color="#ff0700" d="M771.2,129.3L773.7,125.1L744.4,125L745.7,129.2Z"/>
<path color="#ff0600" d="M773.7,125.1L776.2,121L743.2,120.8L744.4,125Z"/>
<path color="#ff0500" d="M776.2,121L778.7,116.9L741.9,116.7L743.2,120.8Z"/>
<path color="#ff0300" d="M778.7,116.9L781.2,112.8L740.7,112.6L741.9,116.7Z"/>
<path color="#ff0200" d="M781.2,112.8L783.6,108.8L739.5,108.5L740.7,112.6Z"/>
<path color="#ff0100" d="M783.6,108.8L786,104.7L738.3,104.5L739.5,108.5Z"/>
<path color="#fb0000" d="M786,104.7L788.4,100.8L737,100.5L738.3,104.5Z"/>
<path color="#f30000" d="M788.4,100.8L790.8,96.8L735.8,96.5L737,100.5Z"/>
<path color="#eb0000" d="M790.8,96.8L793.2,92.9L734.7,92.6L735.8,96.5Z"/>
<path color="#e30000" d="M793.2,92.9L795.5,89L733.5,88.7L734.7,92.6Z"/>
<path color="#da0000" d="M795.5,89L797.8,85.1L732.3,84.8L733.5,88.7Z"/>
<path color="#d20000" d="M797.8,85.1L797.9,85L790.5,81.2L731.1,80.9L732.3,84.8Z"/>
<path color="#ca0000" d="M790.5,81.2L783,77.4L730,77.1L731.1,80.9Z"/>
<path color="#c20000" d="M783,77.4L775.5,73.5L728.8,73.3L730,77.1Z"/>
<path color="#b90000" d="M775.5,73.5L768.1,69.7L727.7,69.5L728.8,73.3Z"/>
<path color="#ae0000" d="M768.1,69.7L760.7,65.9L726.6,65.7L727.7,69.5Z"/>
<path color="#a30000" d="M760.7,65.9L753.4,62.1L725.4,62L726.6,65.7Z"/>
<path color="#990000" d="M753.4,62.1L746.1,58.4L724.3,58.3L725.4,62Z"/>
<path color="#8e0000" d="M746.1,58.4L738.9,54.7L723.2,54.6L724.3,58.3Z"/>
<path color="#840000" d="M738.9,54.7L731.7,51L722.1,51L723.2,54.6Z"/>
<path color="#790000" d="M731.7,51L724.6,47.3L721,47.3L722.1,51Z"/>
<path color="#6e0000" d="M724.6,47.3L720.4,45.2L721,47.3Z"/>
<path color="#008bff" d="M697.8,278L705.2,282.6L704.6,279Z"/>
<path color="#00abff" d="M689.3,272.8L697.8,278L704.6,279L703.8,274.9Z"/>
<path color="#00ccff" d="M680.8,267.6L689.3,272.8L703.8,274.9L703,270.8Z"/>
<path color="#00e0f2" d="M672.4,262.5L680.8,267.6L703,270.8L702.3,266.8Z"/>
<path color="#00e9d8" d="M664.1,257.4L672.4,262.5L702.3,266.8L701.5,262.7Z"/>
<path color="#00f2bd" d="M655.9,252.4L664.1,257.4L701.5,262.7L700.7,258.7Z"/>
<path color="#00fba3" d="M647.7,247.4L655.9,252.4L700.7,258.7L700,254.7Z"/>
<path color="#00ff83" d="M639.6,242.4L647.7,247.4L700,254.7L699.2,250.6Z"/>
<path color="#00ff5e" d="M631.5,237.5L639.6,242.4L699.2,250.6L698.5,246.7Z"/>
<path color="#00ff38" d="M623.5,232.6L631.5,237.5L698.5,246.7L697.7,242.7Z"/>
<path color="#00ff13" d="M623,232.2L623.5,232.6L697.7,242.7L697,238.7L624.4,228.9Z"/>
<path color="#0dff00" d="M697,238.7L696.2,234.8L625.9,225.3L624.4,228.9Z"/>
<path color="#28ff00" d="M696.2,234.8L695.5,230.8L627.4,221.8L625.9,225.3Z"/>
<path color="#43ff00" d="M695.5,230.8L694.7,226.9L628.9,218.2L627.4,221.8Z"/>
<path color="#5eff00" d="M694.7,226.9L694,223L630.4,214.7L628.9,218.2Z"/>
<path color="#79ff00" d="M694,223L693.3,219.1L631.9,211.2L630.4,214.7Z"/>
<path color="#93ff00" d="M693.3,219.1L692.5,215.2L633.4,207.6L631.9,211.2Z"/>
<path color="#a5ff00" d="M692.5,215.2L691.8,211.4L634.9,204.1L633.4,207.6Z"/>
<path color="#b5ff00" d="M691.8,211.4L691.1,207.5L636.3,200.6L634.9,204.1Z"/>
<path color="#c6ff00" d="M691.1,207.5L690.4,203.7L637.8,197.1L636.3,200.6Z"/>
<path color="#d6ff00" d="M690.4,203.7L689.6,199.8L639.3,193.6L637.8,197.1Z"/>
<path color="#e6ff00" d="M689.6,199.8L688.9,196L640.7,190.1L639.3,193.6Z"/>
<path color="#f7ff00" d="M688.9,196L688.2,192.2L642.2,186.6L640.7,190.1Z"/>
<path color="#fff800" d="M688.2,192.2L687.5,188.4L643.7,183.2L642.2,186.6Z"/>
<path color="#ffeb00" d="M687.5,188.4L686.8,184.7L645.1,179.7L643.7,183.2Z"/>
<path color="#ffdd00" d="M686.8,184.7L686.1,180.9L646.6,176.3L645.1,179.7Z"/>
<path color="#ffd000" d="M686.1,180.9L685.4,177.2L648,172.8L646.6,176.3Z"/>
<path color="#ffc200" d="M685.4,177.2L684.7,173.4L649.5,169.4L648,172.8Z"/>
<path color="#ffb100" d="M684.7,173.4L684,169.7L650.9,165.9L649.5,169.4Z"/>
<path color="#ff9e00" d="M684,169.7L683.3,166L652.4,162.5L650.9,165.9Z"/>
<path color="#ff8b00" d="M683.3,166L682.6,162.3L653.8,159.1L652.4,162.5Z"/>
<path color="#ff7900" d="M682.6,162.3L681.9,158.7L655.3,155.7L653.8,159.1Z"/>
<path color="#ff6600" d="M681.9,158.7L681.2,155L656.7,152.3L655.3,155.7Z"/>
<path color="#ff4f00" d="M681.2,155L680.5,151.3L658.1,148.9L656.7,152.3Z"/>
<path color="#ff3700" d="M680.5,151.3L679.8,147.7L659.5,145.5L658.1,148.9Z"/>
<path color="#ff1f00" d="M679.8,147.7L679.1,144.1L661,142.1L659.5,145.5Z"/>
<path color="#ff0e00" d="M679.1,144.1L678.5,140.5L662.4,138.8L661,142.1Z"/>
<path color="#ff0c00" d="M678.5,140.5L677.8,136.9L663.8,135.4L662.4,138.8Z"/>
<path color="#ff0b00" d="M677.8,136.9L677.1,133.3L665.2,132L663.8,135.4Z"/>
<path color="#ff0a00" d="M677.1,133.3L676.4,129.7L666.6,128.7L665.2,132Z"/>
<path color="#ff0800" d="M676.4,129.7L675.8,126.1L668,125.4L666.6,128.7Z"/>
<path color="#ff0700" d="M675.8,126.1L675.1,122.6L669.4,122L668,125.4Z"/>
<path color="#ff0600" d="M675.1,122.6L674.4,119.1L670.8,118.7L669.4,122Z"/>
<path color="#ff0500" d="M674.4,119.1L673.8,115.5L672.2,115.4L670.8,118.7Z"/>
<path color="#ff0300" d="M673.8,115.5L673.3,112.9L672.2,115.4Z"/>
<path color="#008bff" d="M705.2,282.6L706.5,279.3L704.6,279Z"/>
<path color="#00abff" d="M706.5,279.3L708,275.5L703.8,274.9L704.6,279Z"/>
<path color="#00ccff" d="M708,275.5L709.5,271.7L703,270.8L703.8,274.9Z"/>
<path color="#00e0f2" d="M709.5,271.7L711,268L702.3,266.8L703,270.8Z"/>
<path color="#00e9d8" d="M711,268L712.4,264.2L701.5,262.7L702.3,266.8Z"/>
<path color="#00f2bd" d="M712.4,264.2L713.9,260.4L700.7,258.7L701.5,262.7Z"/>
<path color="#00fba3" d="M713.9,260.4L715.4,256.7L700,254.7L700.7,258.7Z"/>
<path color="#00ff83" d="M715.4,256.7L716.8,253L699.2,250.6L700,254.7Z"/>
<path color="#00ff5e" d="M716.8,253L718.3,249.2L698.5,246.7L699.2,250.6Z"/>
<path color="#00ff38" d="M718.3,249.2L719.8,245.5L697.7,242.7L698.5,246.7Z"/>
<path color="#00ff13" d="M719.8,245.5L721.2,241.8L697,238.7L697.7,242.7Z"/>
<path color="#0dff00" d="M721.2,241.8L722.7,238.1L696.2,234.8L697,238.7Z"/>
<path color="#28ff00" d="M722.7,238.1L724.1,234.4L695.5,230.8L696.2,234.8Z"/>
<path color="#43ff00" d="M724.1,234.4L725.5,230.7L694.7,226.9L695.5,230.8Z"/>
<path color="#5eff00" d="M725.5,230.7L727,227.1L694,223L694.7,226.9Z"/>
<path color="#79ff00" d="M727,227.1L728.4,223.4L693.3,219.1L694,223Z"/>
<path color="#93ff00" d="M728.4,223.4L729.8,219.8L692.5,215.2L693.3,219.1Z"/>
<path color="#a5ff00" d="M729.8,219.8L731.3,216.1L691.8,211.4L692.5,215.2Z"/>
<path color="#b5ff00" d="M731.3,216.1L732.7,212.5L691.1,207.5L691.8,211.4Z"/>
<path color="#c6ff00" d="M732.7,212.5L734.1,208.8L690.4,203.7L691.1,207.5Z"/>
<path color="#d6ff00" d="M734.1,208.8L735.5,205.2L689.6,199.8L690.4,203.7Z"/>
<path color="#e6ff00" d="M735.5,205.2L736.9,201.6L688.9,196L689.6,199.8Z"/>
<path color="#f7ff00" d="M736.9,201.6L738.4,198L688.2,192.2L688.9,196Z"/>
<path color="#fff800" d="M738.4,198L739.8,194.4L687.5,188.4L688.2,192.2Z"/>
<path color="#ffeb00" d="M739.8,194.4L741.2,190.8L686.8,184.7L687.5,188.4Z"/>
<path color="#ffdd00" d="M741.2,190.8L742.6,187.3L686.1,180.9L686.8,184.7Z"/>
<path color="#ffd000" d="M742.6,187.3L744,183.7L685.4,177.2L686.1,180.9Z"/>
<path color="#ffc200" d="M744,183.7L745.4,180.1L684.7,173.4L685.4,177.2Z"/>
<path color="#ffb100" d="M745.4,180.1L746.7,176.6L684,169.7L684.7,173.4Z"/>
<path color="#ff9e00" d="M746.7,176.6L748.1,173L683.3,166L684,169.7Z"/>
<path color="#ff8b00" d="M748.1,173L749.5,169.5L682.6,162.3L683.3,166Z"/>
<path color="#ff7900" d="M749.5,169.5L750.9,166L681.9,158.7L682.6,162.3Z"/>
<path color="#ff6600" d="M750.9,166L752.3,162.5L681.2,155L681.9,158.7Z"/>
<path color="#ff4f00" d="M752.3,162.5L753.6,159L680.5,151.3L681.2,155Z"/>
<path color="#ff3700" d="M753.6,159L754.2,157.5L749.6,154.9L679.8,147.7L680.5,151.3Z"/>
<path color="#ff1f00" d="M749.6,154.9L741.5,150.4L679.1,144.1L679.8,147.7Z"/>
<path color="#ff0e00" d="M741.5,150.4L733.4,146L678.5,140.5L679.1,144.1Z"/>
<path color="#ff0c00" d="M733.4,146L725.4,141.6L677.8,136.9L678.5,140.5Z"/>
<path color="#ff0b00" d="M725.4,141.6L717.5,137.3L677.1,133.3L677.8,136.9Z"/>
<path color="#ff0a00" d="M717.5,137.3L709.7,133L676.4,129.7L677.1,133.3Z"/>
<path color="#ff0800" d="M709.7,133L701.9,128.7L675.8,126.1L676.4,129.7Z"/>
<path color="#ff0700" d="M701.9,128.7L694.1,124.4L675.1,122.6L675.8,126.1Z"/>
<path color="#ff0600" d="M694.1,124.4L686.4,120.2L674.4,119.1L675.1,122.6Z"/>
<path color="#ff0500" d="M686.4,120.2L678.8,116L673.8,115.5L674.4,119.1Z"/>
<path color="#ff0300" d="M678.8,116L673.3,112.9L673.8,115.5Z"/>
<path color="#6800c4" d="M835.6,288.5L836.2,289.5L836,288.3Z"/>
<path color="#5f00d1" d="M833.8,285.6L835.6,288.5L836,288.3L835.3,284.9Z"/>
<path color="#5100dc" d="M832,282.7L833.8,285.6L835.3,284.9L834.7,281.5Z"/>
<path color="#3e00e6" d="M830.2,279.8L832,282.7L834.7,281.5L834,278Z"/>
<path color="#2b00f0" d="M828.4,276.9L830.2,279.8L834,278L833.4,274.6Z"/>
<path color="#1800fa" d="M826.6,274L828.4,276.9L833.4,274.6L832.8,271.2Z"/>
<path color="#0d0bff" d="M824.8,271.1L826.6,274L832.8,271.2L832.1,267.8Z"/>
<path color="#0922ff" d="M823,268.2L824.8,271.1L832.1,267.8L831.5,264.4Z"/>
<path color="#0638ff" d="M821.1,265.2L823,268.2L831.5,264.4L830.9,261Z"/>
<path color="#024fff" d="M819.3,262.3L821.1,265.2L830.9,261L830.2,257.6Z"/>
<path color="#006aff" d="M817.5,259.4L819.3,262.3L830.2,257.6L829.6,254.2Z"/>
<path color="#008bff" d="M815.7,256.5L817.5,259.4L829.6,254.2L828.9,250.8Z"/>
<path color="#00abff" d="M813.9,253.6L815.7,256.5L828.9,250.8L828.3,247.4Z"/>
<path color="#00ccff" d="M812.1,250.6L813.9,253.6L828.3,247.4L827.7,244.1Z"/>
<path color="#00e0f2" d="M810.3,247.7L812.1,250.6L827.7,244.1L827.1,240.7Z"/>
<path color="#00e9d8" d="M808.4,244.8L810.3,247.7L827.1,240.7L826.4,237.3Z"/>
<path color="#00f2bd" d="M806.6,241.8L808.4,244.8L826.4,237.3L825.8,234Z"/>
<path color="#00fba3" d="M804.8,238.9L806.6,241.8L825.8,234L825.2,230.6Z"/>
<path color="#00ff83" d="M803,236L804.8,238.9L825.2,230.6L824.5,227.3Z"/>
<path color="#00ff5e" d="M801.1,233L803,236L824.5,227.3L823.9,223.9Z"/>
<path color="#00ff38" d="M799.3,230.1L801.1,233L823.9,223.9L823.3,220.6Z"/>
<path color="#00ff13" d="M797.5,227.1L799.3,230.1L823.3,220.6L822.7,217.3Z"/>
<path color="#0dff00" d="M795.7,224.2L797.5,227.1L822.7,217.3L822,214Z"/>
<path color="#28ff00" d="M793.8,221.2L795.7,224.2L822,214L821.4,210.6Z"/>
<path color="#43ff00" d="M792,218.3L793.8,221.2L821.4,210.6L820.8,207.3Z"/>
<path color="#5eff00" d="M790.2,215.3L792,218.3L820.8,207.3L820.2,204Z"/>
<path color="#79ff00" d="M788.3,212.4L790.2,215.3L820.2,204L819.6,200.7Z"/>
<path color="#93ff00" d="M786.5,209.4L788.3,212.4L819.6,200.7L818.9,197.4Z"/>
<path color="#a5ff00" d="M784.6,206.4L786.5,209.4L818.9,197.4L818.3,194.1Z"/>
<path color="#b5ff00" d="M782.8,203.5L784.6,206.4L818.3,194.1L817.7,190.8Z"/>
<path color="#c6ff00" d="M781,200.5L782.8,203.5L817.7,190.8L817.1,187.5Z"/>
<path color="#d6ff00" d="M779.1,197.6L781,200.5L817.1,187.5L816.5,184.3Z"/>
<path color="#e6ff00" d="M777.3,194.6L779.1,197.6L816.5,184.3L815.9,181Z"/>
<path color="#f7ff00" d="M775.4,191.6L777.3,194.6L815.9,181L815.3,177.7Z"/>
<path color="#fff800" d="M773.6,188.6L775.4,191.6L815.3,177.7L814.6,174.5Z"/>
<path color="#ffeb00" d="M771.7,185.7L773.6,188.6L814.6,174.5L814,171.2Z"/>
<path color="#ffdd00" d="M769.9,182.7L771.7,185.7L814,171.2L813.4,168Z"/>
<path color="#ffd000" d="M768,179.7L769.9,182.7L813.4,168L812.8,164.7Z"/>
<path color="#ffc200" d="M766.2,176.7L768,179.7L812.8,164.7L812.2,161.5Z"/>
<path color="#ffb100" d="M764.3,173.7L766.2,176.7L812.2,161.5L811.6,158.2Z"/>
<path color="#ff9e00" d="M762.5,170.7L764.3,173.7L811.6,158.2L811,155Z"/>
<path color="#ff8b00" d="M760.6,167.7L762.5,170.7L811,155L810.4,151.8Z"/>
<path color="#ff7900" d="M758.7,164.7L760.6,167.7L810.4,151.8L809.8,148.5Z"/>
<path color="#ff6600" d="M756.9,161.7L758.7,164.7L809.8,148.5L809.2,145.3Z"/>
<path color="#ff4f00" d="M755,158.7L756.9,161.7L809.2,145.3L808.6,142.1Z"/>
<path color="#ff3700" d="M754.2,157.5L755,158.7L808.6,142.1L808,138.9L755.7,154.9Z"/>
<path color="#ff1f00" d="M808,138.9L807.4,135.7L758.4,150.6L755.7,154.9Z"/>
<path color="#ff0e00" d="M807.4,135.7L806.8,132.5L761,146.3L758.4,150.6Z"/>
<path color="#ff0c00" d="M806.8,132.5L806.2,129.3L763.6,142L761,146.3Z"/>
<path color="#ff0b00" d="M806.2,129.3L805.6,126.1L766.1,137.7L763.6,142Z"/>
<path color="#ff0a00" d="M805.6,126.1L805,122.9L768.7,133.5L766.1,137.7Z"/>
<path color="#ff0800" d="M805,122.9L804.4,119.8L771.2,129.3L768.7,133.5Z"/>
<path color="#ff0700" d="M804.4,119.8L803.8,116.6L773.7,125.1L771.2,129.3Z"/>
<path color="#ff0600" d="M803.8,116.6L803.2,113.4L776.2,121L773.7,125.1Z"/>
<path color="#ff0500" d="M803.2,113.4L802.6,110.2L778.7,116.9L776.2,121Z"/>
<path color="#ff0300" d="M802.6,110.2L802,107.1L781.2,112.8L778.7,116.9Z"/>
<path color="#ff0200" d="M802,107.1L801.4,103.9L783.6,108.8L781.2,112.8Z"/>
<path color="#ff0100" d="M801.4,103.9L800.9,100.8L786,104.7L783.6,108.8Z"/>
<path color="#fb0000" d="M800.9,100.8L800.3,97.6L788.4,100.8L786,104.7Z"/>
<path color="#f30000" d="M800.3,97.6L799.7,94.5L790.8,96.8L788.4,100.8Z"/>
<path color="#eb0000" d="M799.7,94.5L799.1,91.4L793.2,92.9L790.8,96.8Z"/>
<path color="#e30000" d="M799.1,91.4L798.5,88.2L795.5,89L793.2,92.9Z"/>
<path color="#da0000" d="M798.5,88.2L797.9,85.1L797.8,85.1L795.5,89Z"/>
<path color="#d20000" d="M797.9,85.1L797.9,85L797.8,85.1Z"/>
<path color="#6800c4" d="M836.2,289.5L837,287.7L836,288.3Z"/>
<path color="#5f00d1" d="M837,287.7L839.6,282.6L835.3,284.9L836,288.3Z"/>
<path color="#5100dc" d="M839.6,282.6L842.2,277.5L834.7,281.5L835.3,284.9Z"/>
<path color="#3e00e6" d="M842.2,277.5L844.7,272.5L834,278L834.7,281.5Z"/>
<path color="#2b00f0" d="M844.7,272.5L847.2,267.5L833.4,274.6L834,278Z"/>
<path color="#1800fa" d="M847.2,267.5L849.7,262.5L832.8,271.2L833.4,274.6Z"/>
<path color="#0d0bff" d="M849.7,262.5L852.1,257.6L832.1,267.8L832.8,271.2Z"/>
<path color="#0922ff" d="M852.1,257.6L854.6,252.7L831.5,264.4L832.1,267.8Z"/>
<path color="#0638ff" d="M854.6,252.7L857,247.9L830.9,261L831.5,264.4Z"/>
<path color="#024fff" d="M857,247.9L859.4,243.1L830.2,257.6L830.9,261Z"/>
<path color="#006aff" d="M859.4,243.1L861.8,238.4L829.6,254.2L830.2,257.6Z"/>
<path color="#008bff" d="M861.8,238.4L864.1,233.7L828.9,250.8L829.6,254.2Z"/>
<path color="#00abff" d="M864.1,233.7L866.5,229L828.3,247.4L828.9,250.8Z"/>
<path color="#00ccff" d="M866.5,229L868.8,224.4L827.7,244.1L828.3,247.4Z"/>
<path color="#00e0f2" d="M868.8,224.4L871.1,219.8L827.1,240.7L827.7,244.1Z"/>
<path color="#00e9d8" d="M871.1,219.8L873.3,215.3L826.4,237.3L827.1,240.7Z"/>
<path color="#00f2bd" d="M873.3,215.3L873.6,214.8L872.1,212.4L825.8,234L826.4,237.3Z"/>
<path color="#00fba3" d="M872.1,212.4L870.5,209.7L825.2,230.6L825.8,234Z"/>
<path color="#00ff83" d="M870.5,209.7L869,207L824.5,227.3L825.2,230.6Z"/>
<path color="#00ff5e" d="M869,207L867.4,204.2L823.9,223.9L824.5,227.3Z"/>
<path color="#00ff38" d="M867.4,204.2L865.8,201.5L823.3,220.6L823.9,223.9Z"/>
<path color="#00ff13" d="M865.8,201.5L864.2,198.8L822.7,217.3L823.3,220.6Z"/>
<path color="#0dff00" d="M864.2,198.8L862.6,196.1L822,214L822.7,217.3Z"/>
<path color="#28ff00" d="M862.6,196.1L861,193.3L821.4,210.6L822,214Z"/>
<path color="#43ff00" d="M861,193.3L859.4,190.6L820.8,207.3L821.4,210.6Z"/>
<path color="#5eff00" d="M859.4,190.6L857.8,187.9L820.2,204L820.8,207.3Z"/>
<path color="#79ff00" d="M857.8,187.9L856.2,185.1L819.6,200.7L820.2,204Z"/>
<path color="#93ff00" d="M856.2,185.1L854.6,182.4L818.9,197.4L819.6,200.7Z"/>
<path color="#a5ff00" d="M854.6,182.4L853,179.6L818.3,194.1L818.9,197.4Z"/>
<path color="#b5ff00" d="M853,179.6L851.5,176.9L817.7,190.8L818.3,194.1Z"/>
<path color="#c6ff00" d="M851.5,176.9L849.9,174.2L817.1,187.5L817.7,190.8Z"/>
<path color="#d6ff00" d="M849.9,174.2L848.2,171.4L816.5,184.3L817.1,187.5Z"/>
<path color="#e6ff00" d="M848.2,171.4L846.6,168.7L815.9,181L816.5,184.3Z"/>
<path color="#f7ff00" d="M846.6,168.7L845,165.9L815.3,177.7L815.9,181Z"/>
<path color="#fff800" d="M845,165.9L843.4,163.2L814.6,174.5L815.3,177.7Z"/>
<path color="#ffeb00" d="M843.4,163.2L841.8,160.4L814,171.2L814.6,174.5Z"/>
<path color="#ffdd00" d="M841.8,160.4L840.2,157.6L813.4,168L814,171.2Z"/>
<path color="#ffd000" d="M840.2,157.6L838.6,154.9L812.8,164.7L813.4,168Z"/>
<path color="#ffc200" d="M838.6,154.9L837,152.1L812.2,161.5L812.8,164.7Z"/>
<path color="#ffb100" d="M837,152.1L835.4,149.4L811.6,158.2L812.2,161.5Z"/>
<path color="#ff9e00" d="M835.4,149.4L833.8,146.6L811,155L811.6,158.2Z"/>
<path color="#ff8b00" d="M833.8,146.6L832.2,143.8L810.4,151.8L811,155Z"/>
<path color="#ff7900" d="M832.2,143.8L830.5,141L809.8,148.5L810.4,151.8Z"/>
<path color="#ff6600" d="M830.5,141L828.9,138.3L809.2,145.3L809.8,148.5Z"/>
<path color="#ff4f00" d="M828.9,138.3L827.3,135.5L808.6,142.1L809.2,145.3Z"/>
<path color="#ff3700" d="M827.3,135.5L825.7,132.7L808,138.9L808.6,142.1Z"/>
<path color="#ff1f00" d="M825.7,132.7L824.1,129.9L807.4,135.7L808,138.9Z"/>
<path color="#ff0e00" d="M824.1,129.9L822.4,127.1L806.8,132.5L807.4,135.7Z"/>
<path color="#ff0c00" d="M822.4,127.1L820.8,124.4L806.2,129.3L806.8,132.5Z"/>
<path color="#ff0b00" d="M820.8,124.4L819.2,121.6L805.6,126.1L806.2,129.3Z"/>
<path color="#ff0a00" d="M819.2,121.6L817.6,118.8L805,122.9L805.6,126.1Z"/>
<path color="#ff0800" d="M817.6,118.8L815.9,116L804.4,119.8L805,122.9Z"/>
<path color="#ff0700" d="M815.9,116L814.3,113.2L803.8,116.6L804.4,119.8Z"/>
<path color="#ff0600" d="M814.3,113.2L812.7,110.4L803.2,113.4L803.8,116.6Z"/>
<path color="#ff0500" d="M812.7,110.4L811.1,107.6L802.6,110.2L803.2,113.4Z"/>
<path color="#ff0300" d="M811.1,107.6L809.4,104.8L802,107.1L802.6,110.2Z"/>
<path color="#ff0200" d="M809.4,104.8L807.8,102L801.4,103.9L802,107.1Z"/>
<path color="#ff0100" d="M807.8,102L806.1,99.2L800.9,100.8L801.4,103.9Z"/>
<path color="#fb0000" d="M806.1,99.2L804.5,96.4L800.3,97.6L800.9,100.8Z"/>
<path color="#f30000" d="M804.5,96.4L802.9,93.5L799.7,94.5L800.3,97.6Z"/>
<path color="#eb0000" d="M802.9,93.5L801.2,90.7L799.1,91.4L799.7,94.5Z"/>
<path color="#e30000" d="M801.2,90.7L799.6,87.9L798.5,88.2L799.1,91.4Z"/>
<path color="#da0000" d="M799.6,87.9L797.9,85.1L797.9,85.1L798.5,88.2Z"/>
<path color="#d20000" d="M797.9,85.1L797.9,85L797.9,85.1Z"/>
<path color="#7b007f" d="M789,350.6L794,354.6L793.2,350.8Z"/>
<path color="#7c008a" d="M783.7,346.3L789,350.6L793.2,350.8L792.4,346.7Z"/>
<path color="#7e0095" d="M778.4,341.9L783.7,346.3L792.4,346.7L791.5,342.6Z"/>
<path color="#7f00a0" d="M773.1,337.6L778.4,341.9L791.5,342.6L790.7,338.5Z"/>
<path color="#7b00ab" d="M767.8,333.4L773.1,337.6L790.7,338.5L789.9,334.4Z"/>
<path color="#7200b8" d="M762.6,329.1L767.8,333.4L789.9,334.4L789.1,330.4Z"/>
<path color="#6800c4" d="M757.3,324.8L762.6,329.1L789.1,330.4L788.3,326.3Z"/>
<path color="#5f00d1" d="M752.1,320.6L757.3,324.8L788.3,326.3L787.5,322.3Z"/>
<path color="#5100dc" d="M746.9,316.4L752.1,320.6L787.5,322.3L786.6,318.3Z"/>
<path color="#3e00e6" d="M741.7,312.2L746.9,316.4L786.6,318.3L785.8,314.3Z"/>
<path color="#2b00f0" d="M736.5,308L741.7,312.2L785.8,314.3L785,310.3Z"/>
<path color="#1800fa" d="M731.4,303.8L736.5,308L785,310.3L784.2,306.3Z"/>
<path color="#0d0bff" d="M726.3,299.6L731.4,303.8L784.2,306.3L783.4,302.3Z"/>
<path color="#0922ff" d="M721.1,295.5L726.3,299.6L783.4,302.3L782.6,298.3Z"/>
<path color="#0638ff" d="M716.1,291.4L721.1,295.5L782.6,298.3L781.8,294.4Z"/>
<path color="#024fff" d="M711,287.2L716.1,291.4L781.8,294.4L781,290.4Z"/>
<path color="#006aff" d="M705.9,283.1L711,287.2L781,290.4L780.2,286.5Z"/>
<path color="#008bff" d="M705.2,282.6L705.9,283.1L780.2,286.5L779.4,282.6L706.5,279.3Z"/>
<path color="#00abff" d="M779.4,282.6L778.7,278.7L708,275.5L706.5,279.3Z"/>
<path color="#00ccff" d="M778.7,278.7L777.9,274.8L709.5,271.7L708,275.5Z"/>
<path color="#00e0f2" d="M777.9,274.8L777.1,270.9L711,268L709.5,271.7Z"/>
<path color="#00e9d8" d="M777.1,270.9L776.3,267L712.4,264.2L711,268Z"/>
<path color="#00f2bd" d="M776.3,267L775.5,263.1L713.9,260.4L712.4,264.2Z"/>
<path color="#00fba3" d="M775.5,263.1L774.7,259.3L715.4,256.7L713.9,260.4Z"/>
<path color="#00ff83" d="M774.7,259.3L774,255.4L716.8,253L715.4,256.7Z"/>
<path color="#00ff5e" d="M774,255.4L773.2,251.6L718.3,249.2L716.8,253Z"/>
<path color="#00ff38" d="M773.2,251.6L772.4,247.7L719.8,245.5L718.3,249.2Z"/>
<path color="#00ff13" d="M772.4,247.7L771.7,243.9L721.2,241.8L719.8,245.5Z"/>
<path color="#0dff00" d="M771.7,243.9L770.9,240.1L722.7,238.1L721.2,241.8Z"/>
<path color="#28ff00" d="M770.9,240.1L770.1,236.3L724.1,234.4L722.7,238.1Z"/>
<path color="#43ff00" d="M770.1,236.3L769.4,232.5L725.5,230.7L724.1,234.4Z"/>
<path color="#5eff00" d="M769.4,232.5L768.6,228.8L727,227.1L725.5,230.7Z"/>
<path color="#79ff00" d="M768.6,228.8L767.8,225L728.4,223.4L727,227.1Z"/>
<path color="#93ff00" d="M767.8,225L767.1,221.3L729.8,219.8L728.4,223.4Z"/>
<path color="#a5ff00" d="M767.1,221.3L766.3,217.5L731.3,216.1L729.8,219.8Z"/>
<path color="#b5ff00" d="M766.3,217.5L765.6,213.8L732.7,212.5L731.3,216.1Z"/>
<path color="#c6ff00" d="M765.6,213.8L764.8,210.1L734.1,208.8L732.7,212.5Z"/>
<path color="#d6ff00" d="M764.8,210.1L764.1,206.3L735.5,205.2L734.1,208.8Z"/>
<path color="#e6ff00" d="M764.1,206.3L763.3,202.6L736.9,201.6L735.5,205.2Z"/>
<path color="#f7ff00" d="M763.3,202.6L762.6,199L738.4,198L736.9,201.6Z"/>
<path color="#fff800" d="M762.6,199L761.8,195.3L739.8,194.4L738.4,198Z"/>
<path color="#ffeb00" d="M761.8,195.3L761.1,191.6L741.2,190.8L739.8,194.4Z"/>
<path color="#ffdd00" d="M761.1,191.6L760.4,187.9L742.6,187.3L741.2,190.8Z"/>
<path color="#ffd000" d="M760.4,187.9L759.6,184.3L744,183.7L742.6,187.3Z"/>
<path color="#ffc200" d="M759.6,184.3L758.9,180.6L745.4,180.1L744,183.7Z"/>
<path color="#ffb100" d="M758.9,180.6L758.2,177L746.7,176.6L745.4,180.1Z"/>
<path color="#ff9e00" d="M758.2,177L757.4,173.4L748.1,173L746.7,176.6Z"/>
<path color="#ff8b00" d="M757.4,173.4L756.7,169.8L749.5,169.5L748.1,173Z"/>
<path color="#ff7900" d="M756.7,169.8L756,166.2L750.9,166L749.5,169.5Z"/>
<path color="#ff6600" d="M756,166.2L755.3,162.6L752.3,162.5L750.9,166Z"/>
<path color="#ff4f00" d="M755.3,162.6L754.5,159L753.6,159L752.3,162.5Z"/>
<path color="#ff3700" d="M754.5,159L754.2,157.5L753.6,159Z"/>
<path color="#7b007f" d="M794,354.6L800.3,344.8L793.2,350.8Z"/>
<path color="#7c008a" d="M800.3,344.8L807.1,334.4L792.4,346.7L793.2,350.8Z"/>
<path color="#7e0095" d="M807.1,334.4L813.6,324.3L791.5,342.6L792.4,346.7Z"/>
<path color="#7f00a0" d="M813.6,324.3L820,314.5L790.7,338.5L791.5,342.6Z"/>
<path color="#7b00ab" d="M820,314.5L826.2,304.9L789.9,334.4L790.7,338.5Z"/>
<path color="#7200b8" d="M826.2,304.9L832.2,295.6L789.1,330.4L789.9,334.4Z"/>
<path color="#6800c4" d="M832.2,295.6L836.2,289.5L835.6,288.5L788.3,326.3L789.1,330.4Z"/>
<path color="#5f00d1" d="M835.6,288.5L833.8,285.6L787.5,322.3L788.3,326.3Z"/>
<path color="#5100dc" d="M833.8,285.6L832,282.7L786.6,318.3L787.5,322.3Z"/>
<path color="#3e00e6" d="M832,282.7L830.2,279.8L785.8,314.3L786.6,318.3Z"/>
<path color="#2b00f0" d="M830.2,279.8L828.4,276.9L785,310.3L785.8,314.3Z"/>
<path color="#1800fa" d="M828.4,276.9L826.6,274L784.2,306.3L785,310.3Z"/>
<path color="#0d0bff" d="M826.6,274L824.8,271.1L783.4,302.3L784.2,306.3Z"/>
<path color="#0922ff" d="M824.8,271.1L823,268.2L782.6,298.3L783.4,302.3Z"/>
<path color="#0638ff" d="M823,268.2L821.1,265.2L781.8,294.4L782.6,298.3Z"/>
<path color="#024fff" d="M821.1,265.2L819.3,262.3L781,290.4L781.8,294.4Z"/>
<path color="#006aff" d="M819.3,262.3L817.5,259.4L780.2,286.5L781,290.4Z"/>
<path color="#008bff" d="M817.5,259.4L815.7,256.5L779.4,282.6L780.2,286.5Z"/>
<path color="#00abff" d="M815.7,256.5L813.9,253.6L778.7,278.7L779.4,282.6Z"/>
<path color="#00ccff" d="M813.9,253.6L812.1,250.6L777.9,274.8L778.7,278.7Z"/>
<path color="#00e0f2" d="M812.1,250.6L810.3,247.7L777.1,270.9L777.9,274.8Z"/>
<path color="#00e9d8" d="M810.3,247.7L808.4,244.8L776.3,267L777.1,270.9Z"/>
<path color="#00f2bd" d="M808.4,244.8L806.6,241.8L775.5,263.1L776.3,267Z"/>
<path color="#00fba3" d="M806.6,241.8L804.8,238.9L774.7,259.3L775.5,263.1Z"/>
<path color="#00ff83" d="M804.8,238.9L803,236L774,255.4L774.7,259.3Z"/>
<path color="#00ff5e" d="M803,236L801.1,233L773.2,251.6L774,255.4Z"/>
<path color="#00ff38" d="M801.1,233L799.3,230.1L772.4,247.7L773.2,251.6Z"/>
<path color="#00ff13" d="M799.3,230.1L797.5,227.1L771.7,243.9L772.4,247.7Z"/>
<path color="#0dff00" d="M797.5,227.1L795.7,224.2L770.9,240.1L771.7,243.9Z"/>
<path color="#28ff00" d="M795.7,224.2L793.8,221.2L770.1,236.3L770.9,240.1Z"/>
<path color="#43ff00" d="M793.8,221.2L792,218.3L769.4,232.5L770.1,236.3Z"/>
<path color="#5eff00" d="M792,218.3L790.2,215.3L768.6,228.8L769.4,232.5Z"/>
<path color="#79ff00" d="M790.2,215.3L788.3,212.4L767.8,225L768.6,228.8Z"/>
<path color="#93ff00" d="M788.3,212.4L786.5,209.4L767.1,221.3L767.8,225Z"/>
<path color="#a5ff00" d="M786.5,209.4L784.6,206.4L766.3,217.5L767.1,221.3Z"/>
<path color="#b5ff00" d="M784.6,206.4L782.8,203.5L765.6,213.8L766.3,217.5Z"/>
<path color="#c6ff00" d="M782.8,203.5L781,200.5L764.8,210.1L765.6,213.8Z"/>
<path color="#d6ff00" d="M781,200.5L779.1,197.6L764.1,206.3L764.8,210.1Z"/>
<path color="#e6ff00" d="M779.1,197.6L777.3,194.6L763.3,202.6L764.1,206.3Z"/>
<path color="#f7ff00" d="M777.3,194.6L775.4,191.6L762.6,199L763.3,202.6Z"/>
<path color="#fff800" d="M775.4,191.6L773.6,188.6L761.8,195.3L762.6,199Z"/>
<path color="#ffeb00" d="M773.6,188.6L771.7,185.7L761.1,191.6L761.8,195.3Z"/>
<path color="#ffdd00" d="M771.7,185.7L769.9,182.7L760.4,187.9L761.1,191.6Z"/>
<path color="#ffd000" d="M769.9,182.7L768,179.7L759.6,184.3L760.4,187.9Z"/>
<path color="#ffc200" d="M768,179.7L766.2,176.7L758.9,180.6L759.6,184.3Z"/>
<path color="#ffb100" d="M766.2,176.7L764.3,173.7L758.2,177L758.9,180.6Z"/>
<path color="#ff9e00" d="M764.3,173.7L762.5,170.7L757.4,173.4L758.2,177Z"/>
<path color="#ff8b00" d="M762.5,170.7L760.6,167.7L756.7,169.8L757.4,173.4Z"/>
<path color="#ff7900" d="M760.6,167.7L758.7,164.7L756,166.2L756.7,169.8Z"/>
<path color="#ff6600" d="M758.7,164.7L756.9,161.7L755.3,162.6L756,166.2Z"/>
<path color="#ff4f00" d="M756.9,161.7L755,158.7L754.5,159L755.3,162.6Z"/>
<path color="#ff3700" d="M755,158.7L754.2,157.5L754.5,159Z"/>
</g>
<path d="M673.3,112.9L754.2,157.5M754.2,157.5L720.4,45.2M720.4,45.2L673.3,112.9M754.2,157.5L797.9,85M797.9,85L720.4,45.2M623,232.2L705.2,282.6M705.2,282.6L673.3,112.9M673.3,112.9L623,232.2M705.2,282.6L754.2,157.5M754.2,157.5L836.2,289.5M836.2,289.5L797.9,85M836.2,289.5L873.6,214.8M873.6,214.8L797.9,85M705.2,282.6L794,354.6M794,354.6L754.2,157.5M794,354.6L836.2,289.5" stroke="#808080" stroke-opacity="0.28" stroke-width="0.6" fill="none"/>
<path d="M833.8,285.6L835.3,284.9M839.6,282.6L835.3,284.9M752.1,320.6L787.5,322.3M833.8,285.6L787.5,322.3M819.3,262.3L830.2,257.6M859.4,243.1L830.2,257.6M711,287.2L781,290.4M819.3,262.3L781,290.4M647.7,247.4L700,254.7M715.4,256.7L700,254.7M804.8,238.9L825.2,230.6M870.5,209.7L825.2,230.6M774.7,259.3L715.4,256.7M804.8,238.9L774.7,259.3M694,223L630.4,214.7M727,227.1L694,223M790.2,215.3L820.2,204M857.8,187.9L820.2,204M768.6,228.8L727,227.1M790.2,215.3L768.6,228.8M688.2,192.2L642.2,186.6M738.4,198L688.2,192.2M775.4,191.6L815.3,177.7M845,165.9L815.3,177.7M762.6,199L738.4,198M775.4,191.6L762.6,199M682.6,162.3L653.8,159.1M749.5,169.5L682.6,162.3M760.6,167.7L810.4,151.8M832.2,143.8L810.4,151.8M756.7,169.8L749.5,169.5M760.6,167.7L756.7,169.8M717.5,137.3L748.2,137.6M766.1,137.7L748.2,137.6M677.1,133.3L665.2,132M717.5,137.3L677.1,133.3M805.6,126.1L766.1,137.7M819.2,121.6L805.6,126.1M738.3,104.5L679.6,103.9M786,104.7L738.3,104.5M800.9,100.8L786,104.7M806.1,99.2L800.9,100.8M728.8,73.3L701,73M775.5,73.5L728.8,73.3" stroke="#383838" stroke-opacity="0.6" stroke-width="1.15" fill="none" stroke-linecap="round"/>
<path d="M577.2,87.9L599.2,303.4L801.3,378.7L892.7,260.5" stroke="#111" stroke-width="1.5" fill="none" stroke-linejoin="round"/>
<path d="M599.2,303.4L595.8,305.9M596,272.9L592.6,275.3M592.8,241L589.3,243.3M589.4,207.7L585.8,209.8M585.9,172.7L582.2,174.7M582.1,136.2L578.4,138M578.2,97.8L574.4,99.4M614,308.9L610.6,311.5M629.1,314.6L627.3,316M644.6,320.3L641.3,323M660.4,326.2L658.7,327.7M676.6,332.2L673.5,335.1M693.1,338.4L691.5,340M710.1,344.7L707.1,347.7M727.5,351.2L725.9,352.9M745.3,357.8L742.5,360.9M763.5,364.6L762,366.4M782.2,371.6L779.5,374.8M812.6,364.1L816.6,365.5M823.4,350.2L825.5,351M833.5,337L837.5,338.4M843.2,324.5L845.4,325.2M852.5,312.6L856.5,313.9M861.2,301.2L863.4,301.9M869.6,290.3L873.7,291.6M877.7,280L879.9,280.6M885.3,270L889.4,271.2" stroke="#111" stroke-width="1.1" fill="none"/>
<g fill="#111" stroke="#111" stroke-width="0.25"><text transform="matrix(0.765 -0.581 0.098 0.962 594.1 307.2)" font-size="10.7" text-anchor="end" y="3.6">500</text><text transform="matrix(0.786 -0.556 0.102 1.005 590.9 276.5)" font-size="10.7" text-anchor="end" y="3.6">600</text><text transform="matrix(0.808 -0.528 0.107 1.050 587.5 244.4)" font-size="10.7" text-anchor="end" y="3.6">700</text><text transform="matrix(0.830 -0.497 0.112 1.099 584.0 210.9)" font-size="10.7" text-anchor="end" y="3.6">800</text><text transform="matrix(0.855 -0.462 0.117 1.151 580.3 175.7)" font-size="10.7" text-anchor="end" y="3.6">900</text><text transform="matrix(0.880 -0.424 0.123 1.207 576.5 138.9)" font-size="10.7" text-anchor="end" y="3.6">1000</text><text transform="matrix(0.907 -0.380 0.129 1.267 572.4 100.2)" font-size="10.7" text-anchor="end" y="3.6">1100</text><text transform="matrix(0.756 -0.594 0.926 0.345 609.6 312.3)" font-size="10.6" text-anchor="end" y="3.6">10</text><text transform="matrix(0.734 -0.622 0.968 0.361 640.4 323.9)" font-size="10.6" text-anchor="end" y="3.6">12</text><text transform="matrix(0.710 -0.652 1.013 0.377 672.5 336.0)" font-size="10.6" text-anchor="end" y="3.6">14</text><text transform="matrix(0.683 -0.684 1.062 0.395 706.2 348.6)" font-size="10.6" text-anchor="end" y="3.6">16</text><text transform="matrix(0.652 -0.718 1.114 0.415 741.6 361.9)" font-size="10.6" text-anchor="end" y="3.6">18</text><text transform="matrix(0.617 -0.755 1.170 0.436 778.7 375.8)" font-size="10.6" text-anchor="end" y="3.6">20</text><text transform="matrix(1.177 0.424 -0.567 0.734 818.3 366.1)" font-size="10.6" text-anchor="start" y="3.6">0.020</text><text transform="matrix(1.133 0.383 -0.512 0.662 839.2 339.0)" font-size="10.6" text-anchor="start" y="3.6">0.025</text><text transform="matrix(1.092 0.348 -0.464 0.600 858.2 314.4)" font-size="10.6" text-anchor="start" y="3.6">0.030</text><text transform="matrix(1.053 0.318 -0.423 0.547 875.4 292.1)" font-size="10.6" text-anchor="start" y="3.6">0.035</text><text transform="matrix(1.017 0.291 -0.387 0.500 891.1 271.7)" font-size="10.6" text-anchor="start" y="3.6">0.040</text><text transform="matrix(1.072 0.428 -0.772 0.741 670.4 361.6)" font-size="14.1" text-anchor="middle" y="0.0">Rake angle [°]</text><text transform="matrix(0.426 -0.641 1.157 0.371 902.1 331.4)" font-size="14.6" text-anchor="middle" y="0.0">Depth of cut [mm]</text><text transform="matrix(0.144 1.145 -0.923 0.549 550.9 228.3)" font-size="14.2" text-anchor="middle" y="0.0">Force<tspan font-size="9" dy="3">E</tspan><tspan dy="-3"> [N]</tspan></text></g>
<text x="538.0" y="75.8" font-size="39.5" letter-spacing="0.6" fill="#000">(b)</text>
<rect x="933.9" y="59.7" width="21.0" height="210.3" fill="#fff" stroke="#555" stroke-width="0.7"/>
<rect x="934.3" y="267.40" width="20.2" height="3.20" fill="#7b007f" shape-rendering="crispEdges"/>
<rect x="934.3" y="264.80" width="20.2" height="3.20" fill="#7c008a" shape-rendering="crispEdges"/>
<rect x="934.3" y="262.20" width="20.2" height="3.20" fill="#7e0095" shape-rendering="crispEdges"/>
<rect x="934.3" y="259.60" width="20.2" height="3.20" fill="#7f00a0" shape-rendering="crispEdges"/>
<rect x="934.3" y="257.00" width="20.2" height="3.20" fill="#7b00ab" shape-rendering="crispEdges"/>
<rect x="934.3" y="254.40" width="20.2" height="3.20" fill="#7200b8" shape-rendering="crispEdges"/>
<rect x="934.3" y="251.80" width="20.2" height="3.20" fill="#6800c4" shape-rendering="crispEdges"/>
<rect x="934.3" y="249.20" width="20.2" height="3.20" fill="#5f00d1" shape-rendering="crispEdges"/>
<rect x="934.3" y="246.60" width="20.2" height="3.20" fill="#5100dc" shape-rendering="crispEdges"/>
<rect x="934.3" y="244.00" width="20.2" height="3.20" fill="#3e00e6" shape-rendering="crispEdges"/>
<rect x="934.3" y="241.40" width="20.2" height="3.20" fill="#2b00f0" shape-rendering="crispEdges"/>
<rect x="934.3" y="238.80" width="20.2" height="3.20" fill="#1800fa" shape-rendering="crispEdges"/>
<rect x="934.3" y="236.20" width="20.2" height="3.20" fill="#0d0bff" shape-rendering="crispEdges"/>
<rect x="934.3" y="233.60" width="20.2" height="3.20" fill="#0922ff" shape-rendering="crispEdges"/>
<rect x="934.3" y="231.00" width="20.2" height="3.20" fill="#0638ff" shape-rendering="crispEdges"/>
<rect x="934.3" y="228.40" width="20.2" height="3.20" fill="#024fff" shape-rendering="crispEdges"/>
<rect x="934.3" y="225.80" width="20.2" height="3.20" fill="#006aff" shape-rendering="crispEdges"/>
<rect x="934.3" y="223.20" width="20.2" height="3.20" fill="#008bff" shape-rendering="crispEdges"/>
<rect x="934.3" y="220.60" width="20.2" height="3.20" fill="#00abff" shape-rendering="crispEdges"/>
<rect x="934.3" y="218.00" width="20.2" height="3.20" fill="#00ccff" shape-rendering="crispEdges"/>
<rect x="934.3" y="215.40" width="20.2" height="3.20" fill="#00e0f2" shape-rendering="crispEdges"/>
<rect x="934.3" y="212.80" width="20.2" height="3.20" fill="#00e9d8" shape-rendering="crispEdges"/>
<rect x="934.3" y="210.20" width="20.2" height="3.20" fill="#00f2bd" shape-rendering="crispEdges"/>
<rect x="934.3" y="207.60" width="20.2" height="3.20" fill="#00fba3" shape-rendering="crispEdges"/>
<rect x="934.3" y="205.00" width="20.2" height="3.20" fill="#00ff83" shape-rendering="crispEdges"/>
<rect x="934.3" y="202.40" width="20.2" height="3.20" fill="#00ff5e" shape-rendering="crispEdges"/>
<rect x="934.3" y="199.80" width="20.2" height="3.20" fill="#00ff38" shape-rendering="crispEdges"/>
<rect x="934.3" y="197.20" width="20.2" height="3.20" fill="#00ff13" shape-rendering="crispEdges"/>
<rect x="934.3" y="194.60" width="20.2" height="3.20" fill="#0dff00" shape-rendering="crispEdges"/>
<rect x="934.3" y="192.00" width="20.2" height="3.20" fill="#28ff00" shape-rendering="crispEdges"/>
<rect x="934.3" y="189.40" width="20.2" height="3.20" fill="#43ff00" shape-rendering="crispEdges"/>
<rect x="934.3" y="186.80" width="20.2" height="3.20" fill="#5eff00" shape-rendering="crispEdges"/>
<rect x="934.3" y="184.20" width="20.2" height="3.20" fill="#79ff00" shape-rendering="crispEdges"/>
<rect x="934.3" y="181.60" width="20.2" height="3.20" fill="#93ff00" shape-rendering="crispEdges"/>
<rect x="934.3" y="179.00" width="20.2" height="3.20" fill="#a5ff00" shape-rendering="crispEdges"/>
<rect x="934.3" y="176.40" width="20.2" height="3.20" fill="#b5ff00" shape-rendering="crispEdges"/>
<rect x="934.3" y="173.80" width="20.2" height="3.20" fill="#c6ff00" shape-rendering="crispEdges"/>
<rect x="934.3" y="171.20" width="20.2" height="3.20" fill="#d6ff00" shape-rendering="crispEdges"/>
<rect x="934.3" y="168.60" width="20.2" height="3.20" fill="#e6ff00" shape-rendering="crispEdges"/>
<rect x="934.3" y="166.00" width="20.2" height="3.20" fill="#f7ff00" shape-rendering="crispEdges"/>
<rect x="934.3" y="163.40" width="20.2" height="3.20" fill="#fff800" shape-rendering="crispEdges"/>
<rect x="934.3" y="160.80" width="20.2" height="3.20" fill="#ffeb00" shape-rendering="crispEdges"/>
<rect x="934.3" y="158.20" width="20.2" height="3.20" fill="#ffdd00" shape-rendering="crispEdges"/>
<rect x="934.3" y="155.60" width="20.2" height="3.20" fill="#ffd000" shape-rendering="crispEdges"/>
<rect x="934.3" y="153.00" width="20.2" height="3.20" fill="#ffc200" shape-rendering="crispEdges"/>
<rect x="934.3" y="150.40" width="20.2" height="3.20" fill="#ffb100" shape-rendering="crispEdges"/>
<rect x="934.3" y="147.80" width="20.2" height="3.20" fill="#ff9e00" shape-rendering="crispEdges"/>
<rect x="934.3" y="145.20" width="20.2" height="3.20" fill="#ff8b00" shape-rendering="crispEdges"/>
<rect x="934.3" y="142.60" width="20.2" height="3.20" fill="#ff7900" shape-rendering="crispEdges"/>
<rect x="934.3" y="140.00" width="20.2" height="3.20" fill="#ff6600" shape-rendering="crispEdges"/>
<rect x="934.3" y="137.40" width="20.2" height="3.20" fill="#ff4f00" shape-rendering="crispEdges"/>
<rect x="934.3" y="134.80" width="20.2" height="3.20" fill="#ff3700" shape-rendering="crispEdges"/>
<rect x="934.3" y="132.20" width="20.2" height="3.20" fill="#ff1f00" shape-rendering="crispEdges"/>
<rect x="934.3" y="129.60" width="20.2" height="3.20" fill="#ff0e00" shape-rendering="crispEdges"/>
<rect x="934.3" y="127.00" width="20.2" height="3.20" fill="#ff0c00" shape-rendering="crispEdges"/>
<rect x="934.3" y="124.40" width="20.2" height="3.20" fill="#ff0b00" shape-rendering="crispEdges"/>
<rect x="934.3" y="121.80" width="20.2" height="3.20" fill="#ff0a00" shape-rendering="crispEdges"/>
<rect x="934.3" y="119.20" width="20.2" height="3.20" fill="#ff0800" shape-rendering="crispEdges"/>
<rect x="934.3" y="116.60" width="20.2" height="3.20" fill="#ff0700" shape-rendering="crispEdges"/>
<rect x="934.3" y="114.00" width="20.2" height="3.20" fill="#ff0600" shape-rendering="crispEdges"/>
<rect x="934.3" y="111.40" width="20.2" height="3.20" fill="#ff0500" shape-rendering="crispEdges"/>
<rect x="934.3" y="108.80" width="20.2" height="3.20" fill="#ff0300" shape-rendering="crispEdges"/>
<rect x="934.3" y="106.20" width="20.2" height="3.20" fill="#ff0200" shape-rendering="crispEdges"/>
<rect x="934.3" y="103.60" width="20.2" height="3.20" fill="#ff0100" shape-rendering="crispEdges"/>
<rect x="934.3" y="101.00" width="20.2" height="3.20" fill="#fb0000" shape-rendering="crispEdges"/>
<rect x="934.3" y="98.40" width="20.2" height="3.20" fill="#f30000" shape-rendering="crispEdges"/>
<rect x="934.3" y="95.80" width="20.2" height="3.20" fill="#eb0000" shape-rendering="crispEdges"/>
<rect x="934.3" y="93.20" width="20.2" height="3.20" fill="#e30000" shape-rendering="crispEdges"/>
<rect x="934.3" y="90.60" width="20.2" height="3.20" fill="#da0000" shape-rendering="crispEdges"/>
<rect x="934.3" y="88.00" width="20.2" height="3.20" fill="#d20000" shape-rendering="crispEdges"/>
<rect x="934.3" y="85.40" width="20.2" height="3.20" fill="#ca0000" shape-rendering="crispEdges"/>
<rect x="934.3" y="82.80" width="20.2" height="3.20" fill="#c20000" shape-rendering="crispEdges"/>
<rect x="934.3" y="80.20" width="20.2" height="3.20" fill="#b90000" shape-rendering="crispEdges"/>
<rect x="934.3" y="77.60" width="20.2" height="3.20" fill="#ae0000" shape-rendering="crispEdges"/>
<rect x="934.3" y="75.00" width="20.2" height="3.20" fill="#a30000" shape-rendering="crispEdges"/>
<rect x="934.3" y="72.40" width="20.2" height="3.20" fill="#990000" shape-rendering="crispEdges"/>
<rect x="934.3" y="69.80" width="20.2" height="3.20" fill="#8e0000" shape-rendering="crispEdges"/>
<rect x="934.3" y="67.20" width="20.2" height="3.20" fill="#840000" shape-rendering="crispEdges"/>
<rect x="934.3" y="64.60" width="20.2" height="3.20" fill="#790000" shape-rendering="crispEdges"/>
<rect x="934.3" y="62.00" width="20.2" height="3.20" fill="#6e0000" shape-rendering="crispEdges"/>
<rect x="933.9" y="59.7" width="21.0" height="210.3" fill="none" stroke="#555" stroke-width="0.7"/>
<path d="M933.6,270.4h21.6" stroke="#111" stroke-width="1.5"/>
<text x="963.8" y="273.0" font-size="8.6" fill="#111">508.0</text>
<text x="963.8" y="252.2" font-size="8.6" fill="#111">568.0</text>
<text x="963.8" y="231.4" font-size="8.6" fill="#111">628.0</text>
<text x="963.8" y="210.6" font-size="8.6" fill="#111">688.0</text>
<text x="963.8" y="189.8" font-size="8.6" fill="#111">748.0</text>
<text x="963.8" y="169.0" font-size="8.6" fill="#111">808.0</text>
<text x="963.8" y="148.2" font-size="8.6" fill="#111">868.0</text>
<text x="963.8" y="127.4" font-size="8.6" fill="#111">928.0</text>
<text x="963.8" y="106.6" font-size="8.6" fill="#111">988.0</text>
<text x="963.8" y="85.8" font-size="8.6" fill="#111">1048</text>
<text x="963.8" y="65.0" font-size="8.6" fill="#111">1108</text>
<path d="M954.9,270.0h4.6M954.9,249.2h4.6M954.9,228.4h4.6M954.9,207.6h4.6M954.9,186.8h4.6M954.9,166.0h4.6M954.9,145.2h4.6M954.9,124.4h4.6M954.9,103.6h4.6M954.9,82.8h4.6M954.9,62.0h4.6" stroke="#444" stroke-width="0.8" fill="none"/>
<text x="923.7" y="47.5" font-size="13" fill="#111">Force<tspan font-size="9.5" dy="3.5">E</tspan></text>
</g>
<g>
<path d="M1113,308.9L1231.3,215.8M1231.3,215.8L1230.3,33.9M1143.6,320.3L1258.1,223.3M1258.1,223.3L1260.4,38.6M1175.6,332.2L1285.9,231M1285.9,231L1291.7,43.5M1209.1,344.7L1314.7,239M1314.7,239L1324.4,48.6M1244.3,357.8L1344.6,247.4M1344.6,247.4L1358.5,53.9M1281.2,371.6L1375.7,256.1M1375.7,256.1L1394.1,59.4M1112.7,292.4L1311.6,364.1M1112.7,292.4L1093.5,80.9M1139.8,271.8L1332.5,337M1139.8,271.8L1125.4,68.1M1164.6,253L1351.5,312.6M1164.6,253L1154.3,56.4M1187.4,235.6L1368.6,290.3M1187.4,235.6L1180.5,45.8M1208.4,219.7L1384.3,270M1208.4,219.7L1204.5,36.2M1094.2,265L1217.8,179.2M1217.8,179.2L1395.4,224.8M1090.1,224.5L1217.3,144.8M1217.3,144.8L1399.4,187.3M1085.8,181.6L1216.8,108.9M1216.8,108.9L1403.5,147.8M1081.1,136.2L1216.2,71.2M1216.2,71.2L1407.9,106.2M1076.2,87.9L1215.7,31.6M1215.7,31.6L1412.5,62.3" stroke="#e0e0e0" stroke-width="0.9" fill="none"/>
<path d="M1076.2,87.9L1215.7,31.6M1215.7,31.6L1412.5,62.3M1218.3,212.1L1215.7,31.6M1391.7,260.5L1412.5,62.3M1098.2,303.4L1218.3,212.1M1218.3,212.1L1391.7,260.5" stroke="#858585" stroke-width="0.9" fill="none"/>
<g fill="currentColor" stroke="currentColor" stroke-width="1.1" stroke-linejoin="round">
<path color="#ff0500" d="M1247.3,124.4L1253.5,127.6L1252.1,124Z"/>
<path color="#ff0300" d="M1238.7,120L1247.3,124.4L1252.1,124L1250.1,118.9Z"/>
<path color="#ff0200" d="M1230.2,115.6L1238.7,120L1250.1,118.9L1248.1,113.9Z"/>
<path color="#ff0100" d="M1221.7,111.2L1230.2,115.6L1248.1,113.9L1246.2,109Z"/>
<path color="#fb0000" d="M1213.3,106.8L1221.7,111.2L1246.2,109L1244.3,104.1Z"/>
<path color="#f30000" d="M1205,102.5L1213.3,106.8L1244.3,104.1L1242.5,99.3Z"/>
<path color="#eb0000" d="M1196.7,98.3L1205,102.5L1242.5,99.3L1240.6,94.5Z"/>
<path color="#e30000" d="M1188.5,94L1196.7,98.3L1240.6,94.5L1238.8,89.8Z"/>
<path color="#da0000" d="M1180.4,89.8L1188.5,94L1238.8,89.8L1237,85.2Z"/>
<path color="#d20000" d="M1172.3,85.6L1180.4,89.8L1237,85.2L1235.2,80.6Z"/>
<path color="#ca0000" d="M1171.1,85L1172.3,85.6L1235.2,80.6L1233.4,76.1L1175.8,80.6Z"/>
<path color="#c20000" d="M1233.4,76.1L1231.7,71.6L1181.2,75.5L1175.8,80.6Z"/>
<path color="#b90000" d="M1231.7,71.6L1230,67.2L1186.6,70.5L1181.2,75.5Z"/>
<path color="#ae0000" d="M1230,67.2L1228.3,62.8L1191.8,65.5L1186.6,70.5Z"/>
<path color="#a30000" d="M1228.3,62.8L1226.6,58.5L1197,60.7L1191.8,65.5Z"/>
<path color="#990000" d="M1226.6,58.5L1224.9,54.3L1202.1,55.9L1197,60.7Z"/>
<path color="#8e0000" d="M1224.9,54.3L1223.3,50.1L1207.1,51.2L1202.1,55.9Z"/>
<path color="#840000" d="M1223.3,50.1L1221.7,45.9L1212.1,46.5L1207.1,51.2Z"/>
<path color="#790000" d="M1221.7,45.9L1220.1,41.8L1216.9,42L1212.1,46.5Z"/>
<path color="#6e0000" d="M1220.1,41.8L1219.3,39.8L1216.9,42Z"/>
<path color="#ff0500" d="M1253.5,127.6L1255.5,124.5L1252.1,124Z"/>
<path color="#ff0300" d="M1255.5,124.5L1258.3,120.1L1250.1,118.9L1252.1,124Z"/>
<path color="#ff0200" d="M1258.3,120.1L1261.1,115.8L1248.1,113.9L1250.1,118.9Z"/>
<path color="#ff0100" d="M1261.1,115.8L1263.9,111.5L1246.2,109L1248.1,113.9Z"/>
<path color="#fb0000" d="M1263.9,111.5L1266.6,107.2L1244.3,104.1L1246.2,109Z"/>
<path color="#f30000" d="M1266.6,107.2L1269.3,103L1242.5,99.3L1244.3,104.1Z"/>
<path color="#eb0000" d="M1269.3,103L1272,98.8L1240.6,94.5L1242.5,99.3Z"/>
<path color="#e30000" d="M1272,98.8L1274.7,94.7L1238.8,89.8L1240.6,94.5Z"/>
<path color="#da0000" d="M1274.7,94.7L1277.3,90.6L1237,85.2L1238.8,89.8Z"/>
<path color="#d20000" d="M1277.3,90.6L1280,86.5L1235.2,80.6L1237,85.2Z"/>
<path color="#ca0000" d="M1280,86.5L1282.6,82.4L1233.4,76.1L1235.2,80.6Z"/>
<path color="#c20000" d="M1282.6,82.4L1285.2,78.4L1231.7,71.6L1233.4,76.1Z"/>
<path color="#b90000" d="M1285.2,78.4L1287.7,74.4L1230,67.2L1231.7,71.6Z"/>
<path color="#ae0000" d="M1287.7,74.4L1290.3,70.5L1228.3,62.8L1230,67.2Z"/>
<path color="#a30000" d="M1290.3,70.5L1292.8,66.6L1226.6,58.5L1228.3,62.8Z"/>
<path color="#990000" d="M1292.8,66.6L1295.3,62.7L1224.9,54.3L1226.6,58.5Z"/>
<path color="#8e0000" d="M1295.3,62.7L1297.8,58.8L1223.3,50.1L1224.9,54.3Z"/>
<path color="#840000" d="M1297.8,58.8L1297.8,58.8L1265.7,51L1221.7,45.9L1223.3,50.1Z"/>
<path color="#790000" d="M1265.7,51L1234.3,43.4L1220.1,41.8L1221.7,45.9Z"/>
<path color="#6e0000" d="M1234.3,43.4L1219.3,39.8L1220.1,41.8Z"/>
<path color="#0dff00" d="M1193.8,242L1203.3,247L1202.6,243.5Z"/>
<path color="#28ff00" d="M1182.4,236.1L1193.8,242L1202.6,243.5L1201.8,239.4Z"/>
<path color="#43ff00" d="M1171.1,230.2L1182.4,236.1L1201.8,239.4L1201,235.2Z"/>
<path color="#5eff00" d="M1160,224.4L1171.1,230.2L1201,235.2L1200.2,231Z"/>
<path color="#79ff00" d="M1149,218.6L1160,224.4L1200.2,231L1199.3,226.9Z"/>
<path color="#93ff00" d="M1138.1,212.9L1149,218.6L1199.3,226.9L1198.5,222.8Z"/>
<path color="#a5ff00" d="M1127.4,207.3L1138.1,212.9L1198.5,222.8L1197.7,218.7Z"/>
<path color="#b5ff00" d="M1119.7,203.3L1127.4,207.3L1197.7,218.7L1196.9,214.6L1120.1,202.3Z"/>
<path color="#c6ff00" d="M1196.9,214.6L1196.1,210.6L1121.6,198.7L1120.1,202.3Z"/>
<path color="#d6ff00" d="M1196.1,210.6L1195.3,206.5L1123.2,195.2L1121.6,198.7Z"/>
<path color="#e6ff00" d="M1195.3,206.5L1194.5,202.5L1124.7,191.6L1123.2,195.2Z"/>
<path color="#f7ff00" d="M1194.5,202.5L1193.7,198.5L1126.3,188.1L1124.7,191.6Z"/>
<path color="#fff800" d="M1193.7,198.5L1192.9,194.5L1127.8,184.5L1126.3,188.1Z"/>
<path color="#ffeb00" d="M1192.9,194.5L1192.1,190.5L1129.4,181L1127.8,184.5Z"/>
<path color="#ffdd00" d="M1192.1,190.5L1191.3,186.5L1130.9,177.5L1129.4,181Z"/>
<path color="#ffd000" d="M1191.3,186.5L1190.5,182.6L1132.4,174L1130.9,177.5Z"/>
<path color="#ffc200" d="M1190.5,182.6L1189.7,178.7L1133.9,170.5L1132.4,174Z"/>
<path color="#ffb100" d="M1189.7,178.7L1188.9,174.7L1135.5,167L1133.9,170.5Z"/>
<path color="#ff9e00" d="M1188.9,174.7L1188.2,170.9L1137,163.5L1135.5,167Z"/>
<path color="#ff8b00" d="M1188.2,170.9L1187.4,167L1138.5,160L1137,163.5Z"/>
<path color="#ff7900" d="M1187.4,167L1186.6,163.1L1140,156.5L1138.5,160Z"/>
<path color="#ff6600" d="M1186.6,163.1L1185.9,159.3L1141.5,153.1L1140,156.5Z"/>
<path color="#ff4f00" d="M1185.9,159.3L1185.1,155.4L1143,149.6L1141.5,153.1Z"/>
<path color="#ff3700" d="M1185.1,155.4L1184.3,151.6L1144.5,146.2L1143,149.6Z"/>
<path color="#ff1f00" d="M1184.3,151.6L1183.6,147.8L1146,142.7L1144.5,146.2Z"/>
<path color="#ff0e00" d="M1183.6,147.8L1182.8,144L1147.5,139.3L1146,142.7Z"/>
<path color="#ff0c00" d="M1182.8,144L1182.1,140.3L1149,135.9L1147.5,139.3Z"/>
<path color="#ff0b00" d="M1182.1,140.3L1181.3,136.5L1150.4,132.5L1149,135.9Z"/>
<path color="#ff0a00" d="M1181.3,136.5L1180.6,132.8L1151.9,129.1L1150.4,132.5Z"/>
<path color="#ff0800" d="M1180.6,132.8L1179.8,129.1L1153.4,125.7L1151.9,129.1Z"/>
<path color="#ff0700" d="M1179.8,129.1L1179.1,125.4L1154.9,122.3L1153.4,125.7Z"/>
<path color="#ff0600" d="M1179.1,125.4L1178.4,121.7L1156.3,118.9L1154.9,122.3Z"/>
<path color="#ff0500" d="M1178.4,121.7L1177.6,118L1157.8,115.5L1156.3,118.9Z"/>
<path color="#ff0300" d="M1177.6,118L1176.9,114.3L1159.3,112.2L1157.8,115.5Z"/>
<path color="#ff0200" d="M1176.9,114.3L1176.2,110.7L1160.7,108.8L1159.3,112.2Z"/>
<path color="#ff0100" d="M1176.2,110.7L1175.5,107L1162.2,105.4L1160.7,108.8Z"/>
<path color="#fb0000" d="M1175.5,107L1174.7,103.4L1163.6,102.1L1162.2,105.4Z"/>
<path color="#f30000" d="M1174.7,103.4L1174,99.8L1165.1,98.8L1163.6,102.1Z"/>
<path color="#eb0000" d="M1174,99.8L1173.3,96.2L1166.5,95.4L1165.1,98.8Z"/>
<path color="#e30000" d="M1173.3,96.2L1172.6,92.7L1168,92.1L1166.5,95.4Z"/>
<path color="#da0000" d="M1172.6,92.7L1171.9,89.1L1169.4,88.8L1168,92.1Z"/>
<path color="#d20000" d="M1171.9,89.1L1171.2,85.6L1170.9,85.5L1169.4,88.8Z"/>
<path color="#ca0000" d="M1171.2,85.6L1171.1,85L1170.9,85.5Z"/>
<path color="#0dff00" d="M1203.3,247L1204.7,243.8L1202.6,243.5Z"/>
<path color="#28ff00" d="M1204.7,243.8L1206.3,239.9L1201.8,239.4L1202.6,243.5Z"/>
<path color="#43ff00" d="M1206.3,239.9L1208,236.1L1201,235.2L1201.8,239.4Z"/>
<path color="#5eff00" d="M1208,236.1L1209.6,232.2L1200.2,231L1201,235.2Z"/>
<path color="#79ff00" d="M1209.6,232.2L1211.2,228.3L1199.3,226.9L1200.2,231Z"/>
<path color="#93ff00" d="M1211.2,228.3L1212.8,224.5L1198.5,222.8L1199.3,226.9Z"/>
<path color="#a5ff00" d="M1212.8,224.5L1214.4,220.7L1197.7,218.7L1198.5,222.8Z"/>
<path color="#b5ff00" d="M1214.4,220.7L1216,216.9L1196.9,214.6L1197.7,218.7Z"/>
<path color="#c6ff00" d="M1216,216.9L1217.6,213.1L1196.1,210.6L1196.9,214.6Z"/>
<path color="#d6ff00" d="M1217.6,213.1L1219.2,209.3L1195.3,206.5L1196.1,210.6Z"/>
<path color="#e6ff00" d="M1219.2,209.3L1220.8,205.5L1194.5,202.5L1195.3,206.5Z"/>
<path color="#f7ff00" d="M1220.8,205.5L1222.4,201.7L1193.7,198.5L1194.5,202.5Z"/>
<path color="#fff800" d="M1222.4,201.7L1223.9,198L1192.9,194.5L1193.7,198.5Z"/>
<path color="#ffeb00" d="M1223.9,198L1225.5,194.2L1192.1,190.5L1192.9,194.5Z"/>
<path color="#ffdd00" d="M1225.5,194.2L1227.1,190.5L1191.3,186.5L1192.1,190.5Z"/>
<path color="#ffd000" d="M1227.1,190.5L1228.6,186.8L1190.5,182.6L1191.3,186.5Z"/>
<path color="#ffc200" d="M1228.6,186.8L1230.2,183.1L1189.7,178.7L1190.5,182.6Z"/>
<path color="#ffb100" d="M1230.2,183.1L1231.8,179.4L1188.9,174.7L1189.7,178.7Z"/>
<path color="#ff9e00" d="M1231.8,179.4L1233.3,175.7L1188.2,170.9L1188.9,174.7Z"/>
<path color="#ff8b00" d="M1233.3,175.7L1234.9,172L1187.4,167L1188.2,170.9Z"/>
<path color="#ff7900" d="M1234.9,172L1236.4,168.3L1186.6,163.1L1187.4,167Z"/>
<path color="#ff6600" d="M1236.4,168.3L1237.9,164.7L1185.9,159.3L1186.6,163.1Z"/>
<path color="#ff4f00" d="M1237.9,164.7L1239.5,161L1185.1,155.4L1185.9,159.3Z"/>
<path color="#ff3700" d="M1239.5,161L1241,157.4L1184.3,151.6L1185.1,155.4Z"/>
<path color="#ff1f00" d="M1241,157.4L1242.5,153.7L1183.6,147.8L1184.3,151.6Z"/>
<path color="#ff0e00" d="M1242.5,153.7L1244,150.1L1182.8,144L1183.6,147.8Z"/>
<path color="#ff0c00" d="M1244,150.1L1245.5,146.5L1182.1,140.3L1182.8,144Z"/>
<path color="#ff0b00" d="M1245.5,146.5L1247.1,142.9L1181.3,136.5L1182.1,140.3Z"/>
<path color="#ff0a00" d="M1247.1,142.9L1248.6,139.3L1180.6,132.8L1181.3,136.5Z"/>
<path color="#ff0800" d="M1248.6,139.3L1250.1,135.8L1179.8,129.1L1180.6,132.8Z"/>
<path color="#ff0700" d="M1250.1,135.8L1251.6,132.2L1179.1,125.4L1179.8,129.1Z"/>
<path color="#ff0600" d="M1251.6,132.2L1253.1,128.6L1178.4,121.7L1179.1,125.4Z"/>
<path color="#ff0500" d="M1253.1,128.6L1253.5,127.6L1247.3,124.4L1177.6,118L1178.4,121.7Z"/>
<path color="#ff0300" d="M1247.3,124.4L1238.7,120L1176.9,114.3L1177.6,118Z"/>
<path color="#ff0200" d="M1238.7,120L1230.2,115.6L1176.2,110.7L1176.9,114.3Z"/>
<path color="#ff0100" d="M1230.2,115.6L1221.7,111.2L1175.5,107L1176.2,110.7Z"/>
<path color="#fb0000" d="M1221.7,111.2L1213.3,106.8L1174.7,103.4L1175.5,107Z"/>
<path color="#f30000" d="M1213.3,106.8L1205,102.5L1174,99.8L1174.7,103.4Z"/>
<path color="#eb0000" d="M1205,102.5L1196.7,98.3L1173.3,96.2L1174,99.8Z"/>
<path color="#e30000" d="M1196.7,98.3L1188.5,94L1172.6,92.7L1173.3,96.2Z"/>
<path color="#da0000" d="M1188.5,94L1180.4,89.8L1171.9,89.1L1172.6,92.7Z"/>
<path color="#d20000" d="M1180.4,89.8L1172.3,85.6L1171.2,85.6L1171.9,89.1Z"/>
<path color="#ca0000" d="M1172.3,85.6L1171.1,85L1171.2,85.6Z"/>
<path color="#7b007f" d="M1333.4,293.8L1334.7,296.5L1334.2,293.3Z"/>
<path color="#7c008a" d="M1332.1,291.1L1333.4,293.8L1334.2,293.3L1333.7,290.1Z"/>
<path color="#7e0095" d="M1330.8,288.4L1332.1,291.1L1333.7,290.1L1333.2,287Z"/>
<path color="#7f00a0" d="M1329.5,285.7L1330.8,288.4L1333.2,287L1332.7,283.8Z"/>
<path color="#7b00ab" d="M1328.2,283L1329.5,285.7L1332.7,283.8L1332.3,280.6Z"/>
<path color="#7200b8" d="M1326.9,280.3L1328.2,283L1332.3,280.6L1331.8,277.5Z"/>
<path color="#6800c4" d="M1325.6,277.6L1326.9,280.3L1331.8,277.5L1331.3,274.3Z"/>
<path color="#5f00d1" d="M1324.3,274.9L1325.6,277.6L1331.3,274.3L1330.8,271.2Z"/>
<path color="#5100dc" d="M1323,272.2L1324.3,274.9L1330.8,271.2L1330.3,268Z"/>
<path color="#3e00e6" d="M1321.7,269.4L1323,272.2L1330.3,268L1329.8,264.9Z"/>
<path color="#2b00f0" d="M1320.4,266.7L1321.7,269.4L1329.8,264.9L1329.3,261.7Z"/>
<path color="#1800fa" d="M1319.1,264L1320.4,266.7L1329.3,261.7L1328.8,258.6Z"/>
<path color="#0d0bff" d="M1317.8,261.2L1319.1,264L1328.8,258.6L1328.3,255.4Z"/>
<path color="#0922ff" d="M1316.4,258.5L1317.8,261.2L1328.3,255.4L1327.9,252.3Z"/>
<path color="#0638ff" d="M1315.1,255.8L1316.4,258.5L1327.9,252.3L1327.4,249.2Z"/>
<path color="#024fff" d="M1313.8,253L1315.1,255.8L1327.4,249.2L1326.9,246Z"/>
<path color="#006aff" d="M1312.5,250.3L1313.8,253L1326.9,246L1326.4,242.9Z"/>
<path color="#008bff" d="M1311.2,247.5L1312.5,250.3L1326.4,242.9L1325.9,239.8Z"/>
<path color="#00abff" d="M1309.8,244.8L1311.2,247.5L1325.9,239.8L1325.4,236.6Z"/>
<path color="#00ccff" d="M1308.5,242L1309.8,244.8L1325.4,236.6L1324.9,233.5Z"/>
<path color="#00e0f2" d="M1307.2,239.2L1308.5,242L1324.9,233.5L1324.5,230.4Z"/>
<path color="#00e9d8" d="M1305.9,236.5L1307.2,239.2L1324.5,230.4L1324,227.2Z"/>
<path color="#00f2bd" d="M1304.5,233.7L1305.9,236.5L1324,227.2L1323.5,224.1Z"/>
<path color="#00fba3" d="M1303.2,230.9L1304.5,233.7L1323.5,224.1L1323,221Z"/>
<path color="#00ff83" d="M1301.8,228.2L1303.2,230.9L1323,221L1322.5,217.9Z"/>
<path color="#00ff5e" d="M1300.5,225.4L1301.8,228.2L1322.5,217.9L1322,214.8Z"/>
<path color="#00ff38" d="M1299.2,222.6L1300.5,225.4L1322,214.8L1321.5,211.7Z"/>
<path color="#00ff13" d="M1297.8,219.8L1299.2,222.6L1321.5,211.7L1321.1,208.6Z"/>
<path color="#0dff00" d="M1296.5,217L1297.8,219.8L1321.1,208.6L1320.6,205.4Z"/>
<path color="#28ff00" d="M1295.1,214.2L1296.5,217L1320.6,205.4L1320.1,202.3Z"/>
<path color="#43ff00" d="M1293.8,211.4L1295.1,214.2L1320.1,202.3L1319.6,199.2Z"/>
<path color="#5eff00" d="M1292.4,208.6L1293.8,211.4L1319.6,199.2L1319.1,196.1Z"/>
<path color="#79ff00" d="M1291.1,205.8L1292.4,208.6L1319.1,196.1L1318.7,193Z"/>
<path color="#93ff00" d="M1289.7,203L1291.1,205.8L1318.7,193L1318.2,189.9Z"/>
<path color="#a5ff00" d="M1288.4,200.2L1289.7,203L1318.2,189.9L1317.7,186.8Z"/>
<path color="#b5ff00" d="M1287,197.3L1288.4,200.2L1317.7,186.8L1317.2,183.8Z"/>
<path color="#c6ff00" d="M1285.7,194.5L1287,197.3L1317.2,183.8L1316.7,180.7Z"/>
<path color="#d6ff00" d="M1284.3,191.7L1285.7,194.5L1316.7,180.7L1316.3,177.6Z"/>
<path color="#e6ff00" d="M1282.9,188.9L1284.3,191.7L1316.3,177.6L1315.8,174.5Z"/>
<path color="#f7ff00" d="M1281.6,186L1282.9,188.9L1315.8,174.5L1315.3,171.4Z"/>
<path color="#fff800" d="M1280.2,183.2L1281.6,186L1315.3,171.4L1314.8,168.3Z"/>
<path color="#ffeb00" d="M1278.8,180.3L1280.2,183.2L1314.8,168.3L1314.3,165.2Z"/>
<path color="#ffdd00" d="M1277.5,177.5L1278.8,180.3L1314.3,165.2L1313.9,162.2Z"/>
<path color="#ffd000" d="M1276.1,174.6L1277.5,177.5L1313.9,162.2L1313.4,159.1Z"/>
<path color="#ffc200" d="M1274.7,171.8L1276.1,174.6L1313.4,159.1L1312.9,156Z"/>
<path color="#ffb100" d="M1273.4,168.9L1274.7,171.8L1312.9,156L1312.4,152.9Z"/>
<path color="#ff9e00" d="M1272,166.1L1273.4,168.9L1312.4,152.9L1312,149.9Z"/>
<path color="#ff8b00" d="M1270.6,163.2L1272,166.1L1312,149.9L1311.5,146.8Z"/>
<path color="#ff7900" d="M1269.2,160.3L1270.6,163.2L1311.5,146.8L1311,143.7Z"/>
<path color="#ff6600" d="M1267.8,157.4L1269.2,160.3L1311,143.7L1310.5,140.7Z"/>
<path color="#ff4f00" d="M1266.4,154.6L1267.8,157.4L1310.5,140.7L1310.1,137.6Z"/>
<path color="#ff3700" d="M1265.1,151.7L1266.4,154.6L1310.1,137.6L1309.6,134.6Z"/>
<path color="#ff1f00" d="M1263.7,148.8L1265.1,151.7L1309.6,134.6L1309.1,131.5Z"/>
<path color="#ff0e00" d="M1262.3,145.9L1263.7,148.8L1309.1,131.5L1308.6,128.5Z"/>
<path color="#ff0c00" d="M1260.9,143L1262.3,145.9L1308.6,128.5L1308.2,125.4Z"/>
<path color="#ff0b00" d="M1259.5,140.1L1260.9,143L1308.2,125.4L1307.7,122.4Z"/>
<path color="#ff0a00" d="M1258.1,137.2L1259.5,140.1L1307.7,122.4L1307.2,119.3Z"/>
<path color="#ff0800" d="M1256.7,134.3L1258.1,137.2L1307.2,119.3L1306.7,116.3Z"/>
<path color="#ff0700" d="M1255.3,131.4L1256.7,134.3L1306.7,116.3L1306.3,113.2Z"/>
<path color="#ff0600" d="M1253.9,128.5L1255.3,131.4L1306.3,113.2L1305.8,110.2Z"/>
<path color="#ff0500" d="M1253.5,127.6L1253.9,128.5L1305.8,110.2L1305.3,107.1L1255.5,124.5Z"/>
<path color="#ff0300" d="M1305.3,107.1L1304.9,104.1L1258.3,120.1L1255.5,124.5Z"/>
<path color="#ff0200" d="M1304.9,104.1L1304.4,101.1L1261.1,115.8L1258.3,120.1Z"/>
<path color="#ff0100" d="M1304.4,101.1L1303.9,98L1263.9,111.5L1261.1,115.8Z"/>
<path color="#fb0000" d="M1303.9,98L1303.4,95L1266.6,107.2L1263.9,111.5Z"/>
<path color="#f30000" d="M1303.4,95L1303,92L1269.3,103L1266.6,107.2Z"/>
<path color="#eb0000" d="M1303,92L1302.5,89L1272,98.8L1269.3,103Z"/>
<path color="#e30000" d="M1302.5,89L1302,85.9L1274.7,94.7L1272,98.8Z"/>
<path color="#da0000" d="M1302,85.9L1301.6,82.9L1277.3,90.6L1274.7,94.7Z"/>
<path color="#d20000" d="M1301.6,82.9L1301.1,79.9L1280,86.5L1277.3,90.6Z"/>
<path color="#ca0000" d="M1301.1,79.9L1300.6,76.9L1282.6,82.4L1280,86.5Z"/>
<path color="#c20000" d="M1300.6,76.9L1300.2,73.9L1285.2,78.4L1282.6,82.4Z"/>
<path color="#b90000" d="M1300.2,73.9L1299.7,70.9L1287.7,74.4L1285.2,78.4Z"/>
<path color="#ae0000" d="M1299.7,70.9L1299.2,67.8L1290.3,70.5L1287.7,74.4Z"/>
<path color="#a30000" d="M1299.2,67.8L1298.8,64.8L1292.8,66.6L1290.3,70.5Z"/>
<path color="#990000" d="M1298.8,64.8L1298.3,61.8L1295.3,62.7L1292.8,66.6Z"/>
<path color="#8e0000" d="M1298.3,61.8L1297.8,58.8L1297.8,58.8L1295.3,62.7Z"/>
<path color="#840000" d="M1297.8,58.8L1297.8,58.8L1297.8,58.8Z"/>
<path color="#7b007f" d="M1334.7,296.5L1336.9,291.8L1334.2,293.3Z"/>
<path color="#7c008a" d="M1336.9,291.8L1339,287.2L1333.7,290.1L1334.2,293.3Z"/>
<path color="#7e0095" d="M1339,287.2L1341.2,282.6L1333.2,287L1333.7,290.1Z"/>
<path color="#7f00a0" d="M1341.2,282.6L1343.3,278.1L1332.7,283.8L1333.2,287Z"/>
<path color="#7b00ab" d="M1343.3,278.1L1345.4,273.5L1332.3,280.6L1332.7,283.8Z"/>
<path color="#7200b8" d="M1345.4,273.5L1347.5,269L1331.8,277.5L1332.3,280.6Z"/>
<path color="#6800c4" d="M1347.5,269L1349.6,264.6L1331.3,274.3L1331.8,277.5Z"/>
<path color="#5f00d1" d="M1349.6,264.6L1351.7,260.1L1330.8,271.2L1331.3,274.3Z"/>
<path color="#5100dc" d="M1351.7,260.1L1353.7,255.7L1330.3,268L1330.8,271.2Z"/>
<path color="#3e00e6" d="M1353.7,255.7L1355.8,251.4L1329.8,264.9L1330.3,268Z"/>
<path color="#2b00f0" d="M1355.8,251.4L1357.8,247L1329.3,261.7L1329.8,264.9Z"/>
<path color="#1800fa" d="M1357.8,247L1359.8,242.7L1328.8,258.6L1329.3,261.7Z"/>
<path color="#0d0bff" d="M1359.8,242.7L1361.8,238.4L1328.3,255.4L1328.8,258.6Z"/>
<path color="#0922ff" d="M1361.8,238.4L1363.8,234.2L1327.9,252.3L1328.3,255.4Z"/>
<path color="#0638ff" d="M1363.8,234.2L1365.8,230L1327.4,249.2L1327.9,252.3Z"/>
<path color="#024fff" d="M1365.8,230L1367.8,225.8L1326.9,246L1327.4,249.2Z"/>
<path color="#006aff" d="M1367.8,225.8L1369.7,221.6L1326.4,242.9L1326.9,246Z"/>
<path color="#008bff" d="M1369.7,221.6L1371.6,217.5L1325.9,239.8L1326.4,242.9Z"/>
<path color="#00abff" d="M1371.6,217.5L1372.5,215.7L1371.8,214.2L1325.4,236.6L1325.9,239.8Z"/>
<path color="#00ccff" d="M1371.8,214.2L1370.6,211.6L1324.9,233.5L1325.4,236.6Z"/>
<path color="#00e0f2" d="M1370.6,211.6L1369.3,209L1324.5,230.4L1324.9,233.5Z"/>
<path color="#00e9d8" d="M1369.3,209L1368.1,206.4L1324,227.2L1324.5,230.4Z"/>
<path color="#00f2bd" d="M1368.1,206.4L1366.9,203.8L1323.5,224.1L1324,227.2Z"/>
<path color="#00fba3" d="M1366.9,203.8L1365.6,201.3L1323,221L1323.5,224.1Z"/>
<path color="#00ff83" d="M1365.6,201.3L1364.4,198.6L1322.5,217.9L1323,221Z"/>
<path color="#00ff5e" d="M1364.4,198.6L1363.2,196L1322,214.8L1322.5,217.9Z"/>
<path color="#00ff38" d="M1363.2,196L1361.9,193.4L1321.5,211.7L1322,214.8Z"/>
<path color="#00ff13" d="M1361.9,193.4L1360.7,190.8L1321.1,208.6L1321.5,211.7Z"/>
<path color="#0dff00" d="M1360.7,190.8L1359.4,188.2L1320.6,205.4L1321.1,208.6Z"/>
<path color="#28ff00" d="M1359.4,188.2L1358.2,185.6L1320.1,202.3L1320.6,205.4Z"/>
<path color="#43ff00" d="M1358.2,185.6L1356.9,183L1319.6,199.2L1320.1,202.3Z"/>
<path color="#5eff00" d="M1356.9,183L1355.7,180.3L1319.1,196.1L1319.6,199.2Z"/>
<path color="#79ff00" d="M1355.7,180.3L1354.4,177.7L1318.7,193L1319.1,196.1Z"/>
<path color="#93ff00" d="M1354.4,177.7L1353.2,175.1L1318.2,189.9L1318.7,193Z"/>
<path color="#a5ff00" d="M1353.2,175.1L1351.9,172.5L1317.7,186.8L1318.2,189.9Z"/>
<path color="#b5ff00" d="M1351.9,172.5L1350.7,169.8L1317.2,183.8L1317.7,186.8Z"/>
<path color="#c6ff00" d="M1350.7,169.8L1349.4,167.2L1316.7,180.7L1317.2,183.8Z"/>
<path color="#d6ff00" d="M1349.4,167.2L1348.2,164.5L1316.3,177.6L1316.7,180.7Z"/>
<path color="#e6ff00" d="M1348.2,164.5L1346.9,161.9L1315.8,174.5L1316.3,177.6Z"/>
<path color="#f7ff00" d="M1346.9,161.9L1345.6,159.2L1315.3,171.4L1315.8,174.5Z"/>
<path color="#fff800" d="M1345.6,159.2L1344.4,156.6L1314.8,168.3L1315.3,171.4Z"/>
<path color="#ffeb00" d="M1344.4,156.6L1343.1,153.9L1314.3,165.2L1314.8,168.3Z"/>
<path color="#ffdd00" d="M1343.1,153.9L1341.8,151.3L1313.9,162.2L1314.3,165.2Z"/>
<path color="#ffd000" d="M1341.8,151.3L1340.6,148.6L1313.4,159.1L1313.9,162.2Z"/>
<path color="#ffc200" d="M1340.6,148.6L1339.3,145.9L1312.9,156L1313.4,159.1Z"/>
<path color="#ffb100" d="M1339.3,145.9L1338,143.3L1312.4,152.9L1312.9,156Z"/>
<path color="#ff9e00" d="M1338,143.3L1336.8,140.6L1312,149.9L1312.4,152.9Z"/>
<path color="#ff8b00" d="M1336.8,140.6L1335.5,137.9L1311.5,146.8L1312,149.9Z"/>
<path color="#ff7900" d="M1335.5,137.9L1334.2,135.2L1311,143.7L1311.5,146.8Z"/>
<path color="#ff6600" d="M1334.2,135.2L1332.9,132.6L1310.5,140.7L1311,143.7Z"/>
<path color="#ff4f00" d="M1332.9,132.6L1331.7,129.9L1310.1,137.6L1310.5,140.7Z"/>
<path color="#ff3700" d="M1331.7,129.9L1330.4,127.2L1309.6,134.6L1310.1,137.6Z"/>
<path color="#ff1f00" d="M1330.4,127.2L1329.1,124.5L1309.1,131.5L1309.6,134.6Z"/>
<path color="#ff0e00" d="M1329.1,124.5L1327.8,121.8L1308.6,128.5L1309.1,131.5Z"/>
<path color="#ff0c00" d="M1327.8,121.8L1326.5,119.1L1308.2,125.4L1308.6,128.5Z"/>
<path color="#ff0b00" d="M1326.5,119.1L1325.2,116.4L1307.7,122.4L1308.2,125.4Z"/>
<path color="#ff0a00" d="M1325.2,116.4L1324,113.7L1307.2,119.3L1307.7,122.4Z"/>
<path color="#ff0800" d="M1324,113.7L1322.7,111L1306.7,116.3L1307.2,119.3Z"/>
<path color="#ff0700" d="M1322.7,111L1321.4,108.3L1306.3,113.2L1306.7,116.3Z"/>
<path color="#ff0600" d="M1321.4,108.3L1320.1,105.5L1305.8,110.2L1306.3,113.2Z"/>
<path color="#ff0500" d="M1320.1,105.5L1318.8,102.8L1305.3,107.1L1305.8,110.2Z"/>
<path color="#ff0300" d="M1318.8,102.8L1317.5,100.1L1304.9,104.1L1305.3,107.1Z"/>
<path color="#ff0200" d="M1317.5,100.1L1316.2,97.4L1304.4,101.1L1304.9,104.1Z"/>
<path color="#ff0100" d="M1316.2,97.4L1314.9,94.6L1303.9,98L1304.4,101.1Z"/>
<path color="#fb0000" d="M1314.9,94.6L1313.6,91.9L1303.4,95L1303.9,98Z"/>
<path color="#f30000" d="M1313.6,91.9L1312.3,89.2L1303,92L1303.4,95Z"/>
<path color="#eb0000" d="M1312.3,89.2L1311,86.4L1302.5,89L1303,92Z"/>
<path color="#e30000" d="M1311,86.4L1309.7,83.7L1302,85.9L1302.5,89Z"/>
<path color="#da0000" d="M1309.7,83.7L1308.4,80.9L1301.6,82.9L1302,85.9Z"/>
<path color="#d20000" d="M1308.4,80.9L1307.1,78.2L1301.1,79.9L1301.6,82.9Z"/>
<path color="#ca0000" d="M1307.1,78.2L1305.7,75.4L1300.6,76.9L1301.1,79.9Z"/>
<path color="#c20000" d="M1305.7,75.4L1304.4,72.7L1300.2,73.9L1300.6,76.9Z"/>
<path color="#b90000" d="M1304.4,72.7L1303.1,69.9L1299.7,70.9L1300.2,73.9Z"/>
<path color="#ae0000" d="M1303.1,69.9L1301.8,67.1L1299.2,67.8L1299.7,70.9Z"/>
<path color="#a30000" d="M1301.8,67.1L1300.5,64.4L1298.8,64.8L1299.2,67.8Z"/>
<path color="#990000" d="M1300.5,64.4L1299.2,61.6L1298.3,61.8L1298.8,64.8Z"/>
<path color="#8e0000" d="M1299.2,61.6L1297.8,58.8L1297.8,58.8L1298.3,61.8Z"/>
<path color="#840000" d="M1297.8,58.8L1297.8,58.8L1297.8,58.8Z"/>
<path color="#7b00ab" d="M1293,333.8L1293.7,334.5L1293.6,333.8Z"/>
<path color="#7200b8" d="M1289.1,330L1293,333.8L1293.6,333.8L1292.8,329.8Z"/>
<path color="#6800c4" d="M1285.1,326.2L1289.1,330L1292.8,329.8L1292.1,325.8Z"/>
<path color="#5f00d1" d="M1281.2,322.4L1285.1,326.2L1292.1,325.8L1291.3,321.9Z"/>
<path color="#5100dc" d="M1277.3,318.6L1281.2,322.4L1291.3,321.9L1290.5,317.9Z"/>
<path color="#3e00e6" d="M1273.4,314.8L1277.3,318.6L1290.5,317.9L1289.7,314Z"/>
<path color="#2b00f0" d="M1269.4,311L1273.4,314.8L1289.7,314L1289,310Z"/>
<path color="#1800fa" d="M1265.5,307.2L1269.4,311L1289,310L1288.2,306.1Z"/>
<path color="#0d0bff" d="M1261.6,303.5L1265.5,307.2L1288.2,306.1L1287.5,302.2Z"/>
<path color="#0922ff" d="M1257.8,299.7L1261.6,303.5L1287.5,302.2L1286.7,298.3Z"/>
<path color="#0638ff" d="M1253.9,295.9L1257.8,299.7L1286.7,298.3L1285.9,294.4Z"/>
<path color="#024fff" d="M1250,292.2L1253.9,295.9L1285.9,294.4L1285.2,290.5Z"/>
<path color="#006aff" d="M1246.1,288.4L1250,292.2L1285.2,290.5L1284.4,286.7Z"/>
<path color="#008bff" d="M1242.3,284.7L1246.1,288.4L1284.4,286.7L1283.7,282.8Z"/>
<path color="#00abff" d="M1238.4,281L1242.3,284.7L1283.7,282.8L1282.9,278.9Z"/>
<path color="#00ccff" d="M1234.6,277.2L1238.4,281L1282.9,278.9L1282.2,275.1Z"/>
<path color="#00e0f2" d="M1230.7,273.5L1234.6,277.2L1282.2,275.1L1281.4,271.3Z"/>
<path color="#00e9d8" d="M1226.9,269.8L1230.7,273.5L1281.4,271.3L1280.7,267.4Z"/>
<path color="#00f2bd" d="M1223,266.1L1226.9,269.8L1280.7,267.4L1279.9,263.6Z"/>
<path color="#00fba3" d="M1219.2,262.4L1223,266.1L1279.9,263.6L1279.2,259.8Z"/>
<path color="#00ff83" d="M1215.4,258.7L1219.2,262.4L1279.2,259.8L1278.5,256Z"/>
<path color="#00ff5e" d="M1211.6,255L1215.4,258.7L1278.5,256L1277.7,252.2Z"/>
<path color="#00ff38" d="M1207.8,251.3L1211.6,255L1277.7,252.2L1277,248.4Z"/>
<path color="#00ff13" d="M1204,247.7L1207.8,251.3L1277,248.4L1276.3,244.7Z"/>
<path color="#0dff00" d="M1203.3,247L1204,247.7L1276.3,244.7L1275.5,240.9L1204.7,243.8Z"/>
<path color="#28ff00" d="M1275.5,240.9L1274.8,237.1L1206.3,239.9L1204.7,243.8Z"/>
<path color="#43ff00" d="M1274.8,237.1L1274.1,233.4L1208,236.1L1206.3,239.9Z"/>
<path color="#5eff00" d="M1274.1,233.4L1273.3,229.7L1209.6,232.2L1208,236.1Z"/>
<path color="#79ff00" d="M1273.3,229.7L1272.6,225.9L1211.2,228.3L1209.6,232.2Z"/>
<path color="#93ff00" d="M1272.6,225.9L1271.9,222.2L1212.8,224.5L1211.2,228.3Z"/>
<path color="#a5ff00" d="M1271.9,222.2L1271.2,218.5L1214.4,220.7L1212.8,224.5Z"/>
<path color="#b5ff00" d="M1271.2,218.5L1270.5,214.8L1216,216.9L1214.4,220.7Z"/>
<path color="#c6ff00" d="M1270.5,214.8L1269.7,211.1L1217.6,213.1L1216,216.9Z"/>
<path color="#d6ff00" d="M1269.7,211.1L1269,207.4L1219.2,209.3L1217.6,213.1Z"/>
<path color="#e6ff00" d="M1269,207.4L1268.3,203.8L1220.8,205.5L1219.2,209.3Z"/>
<path color="#f7ff00" d="M1268.3,203.8L1267.6,200.1L1222.4,201.7L1220.8,205.5Z"/>
<path color="#fff800" d="M1267.6,200.1L1266.9,196.5L1223.9,198L1222.4,201.7Z"/>
<path color="#ffeb00" d="M1266.9,196.5L1266.2,192.8L1225.5,194.2L1223.9,198Z"/>
<path color="#ffdd00" d="M1266.2,192.8L1265.5,189.2L1227.1,190.5L1225.5,194.2Z"/>
<path color="#ffd000" d="M1265.5,189.2L1264.8,185.5L1228.6,186.8L1227.1,190.5Z"/>
<path color="#ffc200" d="M1264.8,185.5L1264.1,181.9L1230.2,183.1L1228.6,186.8Z"/>
<path color="#ffb100" d="M1264.1,181.9L1263.3,178.3L1231.8,179.4L1230.2,183.1Z"/>
<path color="#ff9e00" d="M1263.3,178.3L1262.6,174.7L1233.3,175.7L1231.8,179.4Z"/>
<path color="#ff8b00" d="M1262.6,174.7L1261.9,171.1L1234.9,172L1233.3,175.7Z"/>
<path color="#ff7900" d="M1261.9,171.1L1261.2,167.5L1236.4,168.3L1234.9,172Z"/>
<path color="#ff6600" d="M1261.2,167.5L1260.6,163.9L1237.9,164.7L1236.4,168.3Z"/>
<path color="#ff4f00" d="M1260.6,163.9L1259.9,160.4L1239.5,161L1237.9,164.7Z"/>
<path color="#ff3700" d="M1259.9,160.4L1259.2,156.8L1241,157.4L1239.5,161Z"/>
<path color="#ff1f00" d="M1259.2,156.8L1258.5,153.3L1242.5,153.7L1241,157.4Z"/>
<path color="#ff0e00" d="M1258.5,153.3L1257.8,149.7L1244,150.1L1242.5,153.7Z"/>
<path color="#ff0c00" d="M1257.8,149.7L1257.1,146.2L1245.5,146.5L1244,150.1Z"/>
<path color="#ff0b00" d="M1257.1,146.2L1256.4,142.6L1247.1,142.9L1245.5,146.5Z"/>
<path color="#ff0a00" d="M1256.4,142.6L1255.7,139.1L1248.6,139.3L1247.1,142.9Z"/>
<path color="#ff0800" d="M1255.7,139.1L1255,135.6L1250.1,135.8L1248.6,139.3Z"/>
<path color="#ff0700" d="M1255,135.6L1254.4,132.1L1251.6,132.2L1250.1,135.8Z"/>
<path color="#ff0600" d="M1254.4,132.1L1253.7,128.6L1253.1,128.6L1251.6,132.2Z"/>
<path color="#ff0500" d="M1253.7,128.6L1253.5,127.6L1253.1,128.6Z"/>
<path color="#7b007f" d="M1326.9,303.7L1334.7,296.5L1333.4,293.8Z"/>
<path color="#7c008a" d="M1318.8,311.3L1326.9,303.7L1333.4,293.8L1332.1,291.1Z"/>
<path color="#7e0095" d="M1310.2,319.2L1318.8,311.3L1332.1,291.1L1330.8,288.4Z"/>
<path color="#7f00a0" d="M1301.3,327.5L1310.2,319.2L1330.8,288.4L1329.5,285.7Z"/>
<path color="#7b00ab" d="M1293.7,334.5L1301.3,327.5L1329.5,285.7L1328.2,283L1293.6,333.8Z"/>
<path color="#7200b8" d="M1328.2,283L1326.9,280.3L1292.8,329.8L1293.6,333.8Z"/>
<path color="#6800c4" d="M1326.9,280.3L1325.6,277.6L1292.1,325.8L1292.8,329.8Z"/>
<path color="#5f00d1" d="M1325.6,277.6L1324.3,274.9L1291.3,321.9L1292.1,325.8Z"/>
<path color="#5100dc" d="M1324.3,274.9L1323,272.2L1290.5,317.9L1291.3,321.9Z"/>
<path color="#3e00e6" d="M1323,272.2L1321.7,269.4L1289.7,314L1290.5,317.9Z"/>
<path color="#2b00f0" d="M1321.7,269.4L1320.4,266.7L1289,310L1289.7,314Z"/>
<path color="#1800fa" d="M1320.4,266.7L1319.1,264L1288.2,306.1L1289,310Z"/>
<path color="#0d0bff" d="M1319.1,264L1317.8,261.2L1287.5,302.2L1288.2,306.1Z"/>
<path color="#0922ff" d="M1317.8,261.2L1316.4,258.5L1286.7,298.3L1287.5,302.2Z"/>
<path color="#0638ff" d="M1316.4,258.5L1315.1,255.8L1285.9,294.4L1286.7,298.3Z"/>
<path color="#024fff" d="M1315.1,255.8L1313.8,253L1285.2,290.5L1285.9,294.4Z"/>
<path color="#006aff" d="M1313.8,253L1312.5,250.3L1284.4,286.7L1285.2,290.5Z"/>
<path color="#008bff" d="M1312.5,250.3L1311.2,247.5L1283.7,282.8L1284.4,286.7Z"/>
<path color="#00abff" d="M1311.2,247.5L1309.8,244.8L1282.9,278.9L1283.7,282.8Z"/>
<path color="#00ccff" d="M1309.8,244.8L1308.5,242L1282.2,275.1L1282.9,278.9Z"/>
<path color="#00e0f2" d="M1308.5,242L1307.2,239.2L1281.4,271.3L1282.2,275.1Z"/>
<path color="#00e9d8" d="M1307.2,239.2L1305.9,236.5L1280.7,267.4L1281.4,271.3Z"/>
<path color="#00f2bd" d="M1305.9,236.5L1304.5,233.7L1279.9,263.6L1280.7,267.4Z"/>
<path color="#00fba3" d="M1304.5,233.7L1303.2,230.9L1279.2,259.8L1279.9,263.6Z"/>
<path color="#00ff83" d="M1303.2,230.9L1301.8,228.2L1278.5,256L1279.2,259.8Z"/>
<path color="#00ff5e" d="M1301.8,228.2L1300.5,225.4L1277.7,252.2L1278.5,256Z"/>
<path color="#00ff38" d="M1300.5,225.4L1299.2,222.6L1277,248.4L1277.7,252.2Z"/>
<path color="#00ff13" d="M1299.2,222.6L1297.8,219.8L1276.3,244.7L1277,248.4Z"/>
<path color="#0dff00" d="M1297.8,219.8L1296.5,217L1275.5,240.9L1276.3,244.7Z"/>
<path color="#28ff00" d="M1296.5,217L1295.1,214.2L1274.8,237.1L1275.5,240.9Z"/>
<path color="#43ff00" d="M1295.1,214.2L1293.8,211.4L1274.1,233.4L1274.8,237.1Z"/>
<path color="#5eff00" d="M1293.8,211.4L1292.4,208.6L1273.3,229.7L1274.1,233.4Z"/>
<path color="#79ff00" d="M1292.4,208.6L1291.1,205.8L1272.6,225.9L1273.3,229.7Z"/>
<path color="#93ff00" d="M1291.1,205.8L1289.7,203L1271.9,222.2L1272.6,225.9Z"/>
<path color="#a5ff00" d="M1289.7,203L1288.4,200.2L1271.2,218.5L1271.9,222.2Z"/>
<path color="#b5ff00" d="M1288.4,200.2L1287,197.3L1270.5,214.8L1271.2,218.5Z"/>
<path color="#c6ff00" d="M1287,197.3L1285.7,194.5L1269.7,211.1L1270.5,214.8Z"/>
<path color="#d6ff00" d="M1285.7,194.5L1284.3,191.7L1269,207.4L1269.7,211.1Z"/>
<path color="#e6ff00" d="M1284.3,191.7L1282.9,188.9L1268.3,203.8L1269,207.4Z"/>
<path color="#f7ff00" d="M1282.9,188.9L1281.6,186L1267.6,200.1L1268.3,203.8Z"/>
<path color="#fff800" d="M1281.6,186L1280.2,183.2L1266.9,196.5L1267.6,200.1Z"/>
<path color="#ffeb00" d="M1280.2,183.2L1278.8,180.3L1266.2,192.8L1266.9,196.5Z"/>
<path color="#ffdd00" d="M1278.8,180.3L1277.5,177.5L1265.5,189.2L1266.2,192.8Z"/>
<path color="#ffd000" d="M1277.5,177.5L1276.1,174.6L1264.8,185.5L1265.5,189.2Z"/>
<path color="#ffc200" d="M1276.1,174.6L1274.7,171.8L1264.1,181.9L1264.8,185.5Z"/>
<path color="#ffb100" d="M1274.7,171.8L1273.4,168.9L1263.3,178.3L1264.1,181.9Z"/>
<path color="#ff9e00" d="M1273.4,168.9L1272,166.1L1262.6,174.7L1263.3,178.3Z"/>
<path color="#ff8b00" d="M1272,166.1L1270.6,163.2L1261.9,171.1L1262.6,174.7Z"/>
<path color="#ff7900" d="M1270.6,163.2L1269.2,160.3L1261.2,167.5L1261.9,171.1Z"/>
<path color="#ff6600" d="M1269.2,160.3L1267.8,157.4L1260.6,163.9L1261.2,167.5Z"/>
<path color="#ff4f00" d="M1267.8,157.4L1266.4,154.6L1259.9,160.4L1260.6,163.9Z"/>
<path color="#ff3700" d="M1266.4,154.6L1265.1,151.7L1259.2,156.8L1259.9,160.4Z"/>
<path color="#ff1f00" d="M1265.1,151.7L1263.7,148.8L1258.5,153.3L1259.2,156.8Z"/>
<path color="#ff0e00" d="M1263.7,148.8L1262.3,145.9L1257.8,149.7L1258.5,153.3Z"/>
<path color="#ff0c00" d="M1262.3,145.9L1260.9,143L1257.1,146.2L1257.8,149.7Z"/>
<path color="#ff0b00" d="M1260.9,143L1259.5,140.1L1256.4,142.6L1257.1,146.2Z"/>
<path color="#ff0a00" d="M1259.5,140.1L1258.1,137.2L1255.7,139.1L1256.4,142.6Z"/>
<path color="#ff0800" d="M1258.1,137.2L1256.7,134.3L1255,135.6L1255.7,139.1Z"/>
<path color="#ff0700" d="M1256.7,134.3L1255.3,131.4L1254.4,132.1L1255,135.6Z"/>
<path color="#ff0600" d="M1255.3,131.4L1253.9,128.5L1253.7,128.6L1254.4,132.1Z"/>
<path color="#ff0500" d="M1253.9,128.5L1253.5,127.6L1253.7,128.6Z"/>
</g>
<path d="M1171.1,85L1253.5,127.6M1253.5,127.6L1219.3,39.8M1219.3,39.8L1171.1,85M1253.5,127.6L1297.8,58.8M1297.8,58.8L1219.3,39.8M1119.7,203.3L1203.3,247M1203.3,247L1171.1,85M1171.1,85L1119.7,203.3M1203.3,247L1253.5,127.6M1253.5,127.6L1334.7,296.5M1334.7,296.5L1297.8,58.8M1334.7,296.5L1372.5,215.7M1372.5,215.7L1297.8,58.8M1203.3,247L1293.7,334.5M1293.7,334.5L1253.5,127.6M1293.7,334.5L1334.7,296.5" stroke="#808080" stroke-opacity="0.28" stroke-width="0.6" fill="none"/>
<path d="M1324.3,274.9L1330.8,271.2M1351.7,260.1L1330.8,271.2M1281.2,322.4L1291.3,321.9M1324.3,274.9L1291.3,321.9M1313.8,253L1326.9,246M1367.8,225.8L1326.9,246M1250,292.2L1285.2,290.5M1313.8,253L1285.2,290.5M1303.2,230.9L1323,221M1365.6,201.3L1323,221M1219.2,262.4L1279.2,259.8M1303.2,230.9L1279.2,259.8M1160,224.4L1200.2,231M1209.6,232.2L1200.2,231M1292.4,208.6L1319.1,196.1M1355.7,180.3L1319.1,196.1M1273.3,229.7L1209.6,232.2M1292.4,208.6L1273.3,229.7M1193.7,198.5L1126.3,188.1M1222.4,201.7L1193.7,198.5M1281.6,186L1315.3,171.4M1345.6,159.2L1315.3,171.4M1267.6,200.1L1222.4,201.7M1281.6,186L1267.6,200.1M1187.4,167L1138.5,160M1234.9,172L1187.4,167M1270.6,163.2L1311.5,146.8M1335.5,137.9L1311.5,146.8M1261.9,171.1L1234.9,172M1270.6,163.2L1261.9,171.1M1181.3,136.5L1150.4,132.5M1247.1,142.9L1181.3,136.5M1259.5,140.1L1307.7,122.4M1325.2,116.4L1307.7,122.4M1256.4,142.6L1247.1,142.9M1259.5,140.1L1256.4,142.6M1221.7,111.2L1246.2,109M1263.9,111.5L1246.2,109M1175.5,107L1162.2,105.4M1221.7,111.2L1175.5,107M1303.9,98L1263.9,111.5M1314.9,94.6L1303.9,98M1231.7,71.6L1181.2,75.5M1285.2,78.4L1231.7,71.6M1300.2,73.9L1285.2,78.4M1304.4,72.7L1300.2,73.9" stroke="#383838" stroke-opacity="0.6" stroke-width="1.15" fill="none" stroke-linecap="round"/>
<path d="M1076.2,87.9L1098.2,303.4L1300.3,378.7L1391.7,260.5" stroke="#111" stroke-width="1.5" fill="none" stroke-linejoin="round"/>
<path d="M1098.2,303.4L1094.8,305.9M1094.2,265L1090.8,267.4M1090.1,224.5L1086.6,226.7M1085.8,181.6L1082.1,183.7M1081.1,136.2L1077.4,138M1076.2,87.9L1072.3,89.5M1113,308.9L1109.6,311.5M1128.1,314.6L1126.3,316M1143.6,320.3L1140.3,323M1159.4,326.2L1157.7,327.7M1175.6,332.2L1172.5,335.1M1192.1,338.4L1190.5,340M1209.1,344.7L1206.1,347.7M1226.5,351.2L1224.9,352.9M1244.3,357.8L1241.5,360.9M1262.5,364.6L1261,366.4M1281.2,371.6L1278.5,374.8M1311.6,364.1L1315.6,365.5M1322.4,350.2L1324.5,351M1332.5,337L1336.5,338.4M1342.2,324.5L1344.4,325.2M1351.5,312.6L1355.5,313.9M1360.2,301.2L1362.4,301.9M1368.6,290.3L1372.7,291.6M1376.7,280L1378.9,280.6M1384.3,270L1388.4,271.2" stroke="#111" stroke-width="1.1" fill="none"/>
<g fill="#111" stroke="#111" stroke-width="0.25"><text transform="matrix(0.765 -0.581 0.098 0.962 1093.1 307.2)" font-size="10.7" text-anchor="end" y="3.6">200</text><text transform="matrix(0.791 -0.549 0.103 1.016 1089.1 268.6)" font-size="10.7" text-anchor="end" y="3.6">300</text><text transform="matrix(0.819 -0.513 0.109 1.074 1084.8 227.9)" font-size="10.7" text-anchor="end" y="3.6">400</text><text transform="matrix(0.848 -0.471 0.116 1.137 1080.3 184.7)" font-size="10.7" text-anchor="end" y="3.6">500</text><text transform="matrix(0.880 -0.424 0.123 1.207 1075.5 138.9)" font-size="10.7" text-anchor="end" y="3.6">600</text><text transform="matrix(0.914 -0.369 0.130 1.282 1070.4 90.3)" font-size="10.7" text-anchor="end" y="3.6">700</text><text transform="matrix(0.756 -0.594 0.926 0.345 1108.6 312.3)" font-size="10.6" text-anchor="end" y="3.6">10</text><text transform="matrix(0.734 -0.622 0.968 0.361 1139.4 323.9)" font-size="10.6" text-anchor="end" y="3.6">12</text><text transform="matrix(0.710 -0.652 1.013 0.377 1171.5 336.0)" font-size="10.6" text-anchor="end" y="3.6">14</text><text transform="matrix(0.683 -0.684 1.062 0.395 1205.2 348.6)" font-size="10.6" text-anchor="end" y="3.6">16</text><text transform="matrix(0.652 -0.718 1.114 0.415 1240.6 361.9)" font-size="10.6" text-anchor="end" y="3.6">18</text><text transform="matrix(0.617 -0.755 1.170 0.436 1277.7 375.8)" font-size="10.6" text-anchor="end" y="3.6">20</text><text transform="matrix(1.177 0.424 -0.567 0.734 1317.3 366.1)" font-size="10.6" text-anchor="start" y="3.6">0.020</text><text transform="matrix(1.133 0.383 -0.512 0.662 1338.2 339.0)" font-size="10.6" text-anchor="start" y="3.6">0.025</text><text transform="matrix(1.092 0.348 -0.464 0.600 1357.2 314.4)" font-size="10.6" text-anchor="start" y="3.6">0.030</text><text transform="matrix(1.053 0.318 -0.423 0.547 1374.4 292.1)" font-size="10.6" text-anchor="start" y="3.6">0.035</text><text transform="matrix(1.017 0.291 -0.387 0.500 1390.1 271.7)" font-size="10.6" text-anchor="start" y="3.6">0.040</text><text transform="matrix(1.072 0.428 -0.772 0.741 1169.4 361.6)" font-size="14.1" text-anchor="middle" y="0.0">Rake angle [°]</text><text transform="matrix(0.426 -0.641 1.157 0.371 1401.1 331.4)" font-size="14.6" text-anchor="middle" y="0.0">Depth of cut [mm]</text><text transform="matrix(0.145 1.150 -0.925 0.545 1053.8 222.4)" font-size="14.2" text-anchor="middle" y="0.0"><tspan font-family="Liberation Serif,serif">Δ</tspan>Force [N]</text></g>
<text x="1037.0" y="75.8" font-size="39.5" letter-spacing="0.6" fill="#000">(c)</text>
<rect x="1427.2" y="59.7" width="21.0" height="210.3" fill="#fff" stroke="#555" stroke-width="0.7"/>
<rect x="1427.6" y="267.40" width="20.2" height="3.20" fill="#7b007f" shape-rendering="crispEdges"/>
<rect x="1427.6" y="264.80" width="20.2" height="3.20" fill="#7c008a" shape-rendering="crispEdges"/>
<rect x="1427.6" y="262.20" width="20.2" height="3.20" fill="#7e0095" shape-rendering="crispEdges"/>
<rect x="1427.6" y="259.60" width="20.2" height="3.20" fill="#7f00a0" shape-rendering="crispEdges"/>
<rect x="1427.6" y="257.00" width="20.2" height="3.20" fill="#7b00ab" shape-rendering="crispEdges"/>
<rect x="1427.6" y="254.40" width="20.2" height="3.20" fill="#7200b8" shape-rendering="crispEdges"/>
<rect x="1427.6" y="251.80" width="20.2" height="3.20" fill="#6800c4" shape-rendering="crispEdges"/>
<rect x="1427.6" y="249.20" width="20.2" height="3.20" fill="#5f00d1" shape-rendering="crispEdges"/>
<rect x="1427.6" y="246.60" width="20.2" height="3.20" fill="#5100dc" shape-rendering="crispEdges"/>
<rect x="1427.6" y="244.00" width="20.2" height="3.20" fill="#3e00e6" shape-rendering="crispEdges"/>
<rect x="1427.6" y="241.40" width="20.2" height="3.20" fill="#2b00f0" shape-rendering="crispEdges"/>
<rect x="1427.6" y="238.80" width="20.2" height="3.20" fill="#1800fa" shape-rendering="crispEdges"/>
<rect x="1427.6" y="236.20" width="20.2" height="3.20" fill="#0d0bff" shape-rendering="crispEdges"/>
<rect x="1427.6" y="233.60" width="20.2" height="3.20" fill="#0922ff" shape-rendering="crispEdges"/>
<rect x="1427.6" y="231.00" width="20.2" height="3.20" fill="#0638ff" shape-rendering="crispEdges"/>
<rect x="1427.6" y="228.40" width="20.2" height="3.20" fill="#024fff" shape-rendering="crispEdges"/>
<rect x="1427.6" y="225.80" width="20.2" height="3.20" fill="#006aff" shape-rendering="crispEdges"/>
<rect x="1427.6" y="223.20" width="20.2" height="3.20" fill="#008bff" shape-rendering="crispEdges"/>
<rect x="1427.6" y="220.60" width="20.2" height="3.20" fill="#00abff" shape-rendering="crispEdges"/>
<rect x="1427.6" y="218.00" width="20.2" height="3.20" fill="#00ccff" shape-rendering="crispEdges"/>
<rect x="1427.6" y="215.40" width="20.2" height="3.20" fill="#00e0f2" shape-rendering="crispEdges"/>
<rect x="1427.6" y="212.80" width="20.2" height="3.20" fill="#00e9d8" shape-rendering="crispEdges"/>
<rect x="1427.6" y="210.20" width="20.2" height="3.20" fill="#00f2bd" shape-rendering="crispEdges"/>
<rect x="1427.6" y="207.60" width="20.2" height="3.20" fill="#00fba3" shape-rendering="crispEdges"/>
<rect x="1427.6" y="205.00" width="20.2" height="3.20" fill="#00ff83" shape-rendering="crispEdges"/>
<rect x="1427.6" y="202.40" width="20.2" height="3.20" fill="#00ff5e" shape-rendering="crispEdges"/>
<rect x="1427.6" y="199.80" width="20.2" height="3.20" fill="#00ff38" shape-rendering="crispEdges"/>
<rect x="1427.6" y="197.20" width="20.2" height="3.20" fill="#00ff13" shape-rendering="crispEdges"/>
<rect x="1427.6" y="194.60" width="20.2" height="3.20" fill="#0dff00" shape-rendering="crispEdges"/>
<rect x="1427.6" y="192.00" width="20.2" height="3.20" fill="#28ff00" shape-rendering="crispEdges"/>
<rect x="1427.6" y="189.40" width="20.2" height="3.20" fill="#43ff00" shape-rendering="crispEdges"/>
<rect x="1427.6" y="186.80" width="20.2" height="3.20" fill="#5eff00" shape-rendering="crispEdges"/>
<rect x="1427.6" y="184.20" width="20.2" height="3.20" fill="#79ff00" shape-rendering="crispEdges"/>
<rect x="1427.6" y="181.60" width="20.2" height="3.20" fill="#93ff00" shape-rendering="crispEdges"/>
<rect x="1427.6" y="179.00" width="20.2" height="3.20" fill="#a5ff00" shape-rendering="crispEdges"/>
<rect x="1427.6" y="176.40" width="20.2" height="3.20" fill="#b5ff00" shape-rendering="crispEdges"/>
<rect x="1427.6" y="173.80" width="20.2" height="3.20" fill="#c6ff00" shape-rendering="crispEdges"/>
<rect x="1427.6" y="171.20" width="20.2" height="3.20" fill="#d6ff00" shape-rendering="crispEdges"/>
<rect x="1427.6" y="168.60" width="20.2" height="3.20" fill="#e6ff00" shape-rendering="crispEdges"/>
<rect x="1427.6" y="166.00" width="20.2" height="3.20" fill="#f7ff00" shape-rendering="crispEdges"/>
<rect x="1427.6" y="163.40" width="20.2" height="3.20" fill="#fff800" shape-rendering="crispEdges"/>
<rect x="1427.6" y="160.80" width="20.2" height="3.20" fill="#ffeb00" shape-rendering="crispEdges"/>
<rect x="1427.6" y="158.20" width="20.2" height="3.20" fill="#ffdd00" shape-rendering="crispEdges"/>
<rect x="1427.6" y="155.60" width="20.2" height="3.20" fill="#ffd000" shape-rendering="crispEdges"/>
<rect x="1427.6" y="153.00" width="20.2" height="3.20" fill="#ffc200" shape-rendering="crispEdges"/>
<rect x="1427.6" y="150.40" width="20.2" height="3.20" fill="#ffb100" shape-rendering="crispEdges"/>
<rect x="1427.6" y="147.80" width="20.2" height="3.20" fill="#ff9e00" shape-rendering="crispEdges"/>
<rect x="1427.6" y="145.20" width="20.2" height="3.20" fill="#ff8b00" shape-rendering="crispEdges"/>
<rect x="1427.6" y="142.60" width="20.2" height="3.20" fill="#ff7900" shape-rendering="crispEdges"/>
<rect x="1427.6" y="140.00" width="20.2" height="3.20" fill="#ff6600" shape-rendering="crispEdges"/>
<rect x="1427.6" y="137.40" width="20.2" height="3.20" fill="#ff4f00" shape-rendering="crispEdges"/>
<rect x="1427.6" y="134.80" width="20.2" height="3.20" fill="#ff3700" shape-rendering="crispEdges"/>
<rect x="1427.6" y="132.20" width="20.2" height="3.20" fill="#ff1f00" shape-rendering="crispEdges"/>
<rect x="1427.6" y="129.60" width="20.2" height="3.20" fill="#ff0e00" shape-rendering="crispEdges"/>
<rect x="1427.6" y="127.00" width="20.2" height="3.20" fill="#ff0c00" shape-rendering="crispEdges"/>
<rect x="1427.6" y="124.40" width="20.2" height="3.20" fill="#ff0b00" shape-rendering="crispEdges"/>
<rect x="1427.6" y="121.80" width="20.2" height="3.20" fill="#ff0a00" shape-rendering="crispEdges"/>
<rect x="1427.6" y="119.20" width="20.2" height="3.20" fill="#ff0800" shape-rendering="crispEdges"/>
<rect x="1427.6" y="116.60" width="20.2" height="3.20" fill="#ff0700" shape-rendering="crispEdges"/>
<rect x="1427.6" y="114.00" width="20.2" height="3.20" fill="#ff0600" shape-rendering="crispEdges"/>
<rect x="1427.6" y="111.40" width="20.2" height="3.20" fill="#ff0500" shape-rendering="crispEdges"/>
<rect x="1427.6" y="108.80" width="20.2" height="3.20" fill="#ff0300" shape-rendering="crispEdges"/>
<rect x="1427.6" y="106.20" width="20.2" height="3.20" fill="#ff0200" shape-rendering="crispEdges"/>
<rect x="1427.6" y="103.60" width="20.2" height="3.20" fill="#ff0100" shape-rendering="crispEdges"/>
<rect x="1427.6" y="101.00" width="20.2" height="3.20" fill="#fb0000" shape-rendering="crispEdges"/>
<rect x="1427.6" y="98.40" width="20.2" height="3.20" fill="#f30000" shape-rendering="crispEdges"/>
<rect x="1427.6" y="95.80" width="20.2" height="3.20" fill="#eb0000" shape-rendering="crispEdges"/>
<rect x="1427.6" y="93.20" width="20.2" height="3.20" fill="#e30000" shape-rendering="crispEdges"/>
<rect x="1427.6" y="90.60" width="20.2" height="3.20" fill="#da0000" shape-rendering="crispEdges"/>
<rect x="1427.6" y="88.00" width="20.2" height="3.20" fill="#d20000" shape-rendering="crispEdges"/>
<rect x="1427.6" y="85.40" width="20.2" height="3.20" fill="#ca0000" shape-rendering="crispEdges"/>
<rect x="1427.6" y="82.80" width="20.2" height="3.20" fill="#c20000" shape-rendering="crispEdges"/>
<rect x="1427.6" y="80.20" width="20.2" height="3.20" fill="#b90000" shape-rendering="crispEdges"/>
<rect x="1427.6" y="77.60" width="20.2" height="3.20" fill="#ae0000" shape-rendering="crispEdges"/>
<rect x="1427.6" y="75.00" width="20.2" height="3.20" fill="#a30000" shape-rendering="crispEdges"/>
<rect x="1427.6" y="72.40" width="20.2" height="3.20" fill="#990000" shape-rendering="crispEdges"/>
<rect x="1427.6" y="69.80" width="20.2" height="3.20" fill="#8e0000" shape-rendering="crispEdges"/>
<rect x="1427.6" y="67.20" width="20.2" height="3.20" fill="#840000" shape-rendering="crispEdges"/>
<rect x="1427.6" y="64.60" width="20.2" height="3.20" fill="#790000" shape-rendering="crispEdges"/>
<rect x="1427.6" y="62.00" width="20.2" height="3.20" fill="#6e0000" shape-rendering="crispEdges"/>
<rect x="1427.2" y="59.7" width="21.0" height="210.3" fill="none" stroke="#555" stroke-width="0.7"/>
<path d="M1426.9,270.4h21.6" stroke="#111" stroke-width="1.5"/>
<text x="1456.6" y="273.0" font-size="8.6" fill="#111">228.0</text>
<text x="1456.6" y="252.2" font-size="8.6" fill="#111">275.2</text>
<text x="1456.6" y="231.4" font-size="8.6" fill="#111">322.4</text>
<text x="1456.6" y="210.6" font-size="8.6" fill="#111">369.6</text>
<text x="1456.6" y="189.8" font-size="8.6" fill="#111">416.8</text>
<text x="1456.6" y="169.0" font-size="8.6" fill="#111">464.0</text>
<text x="1456.6" y="148.2" font-size="8.6" fill="#111">511.2</text>
<text x="1456.6" y="127.4" font-size="8.6" fill="#111">558.4</text>
<text x="1456.6" y="106.6" font-size="8.6" fill="#111">605.6</text>
<text x="1456.6" y="85.8" font-size="8.6" fill="#111">652.8</text>
<text x="1456.6" y="65.0" font-size="8.6" fill="#111">700.0</text>
<path d="M1448.2,270.0h4.6M1448.2,249.2h4.6M1448.2,228.4h4.6M1448.2,207.6h4.6M1448.2,186.8h4.6M1448.2,166.0h4.6M1448.2,145.2h4.6M1448.2,124.4h4.6M1448.2,103.6h4.6M1448.2,82.8h4.6M1448.2,62.0h4.6" stroke="#444" stroke-width="0.8" fill="none"/>
<text x="1415.9" y="50.4" font-size="13.6" fill="#111"><tspan font-family="Liberation Serif,serif">Δ</tspan>Force</text>
</g>
</g>
</svg>
</body></html>
